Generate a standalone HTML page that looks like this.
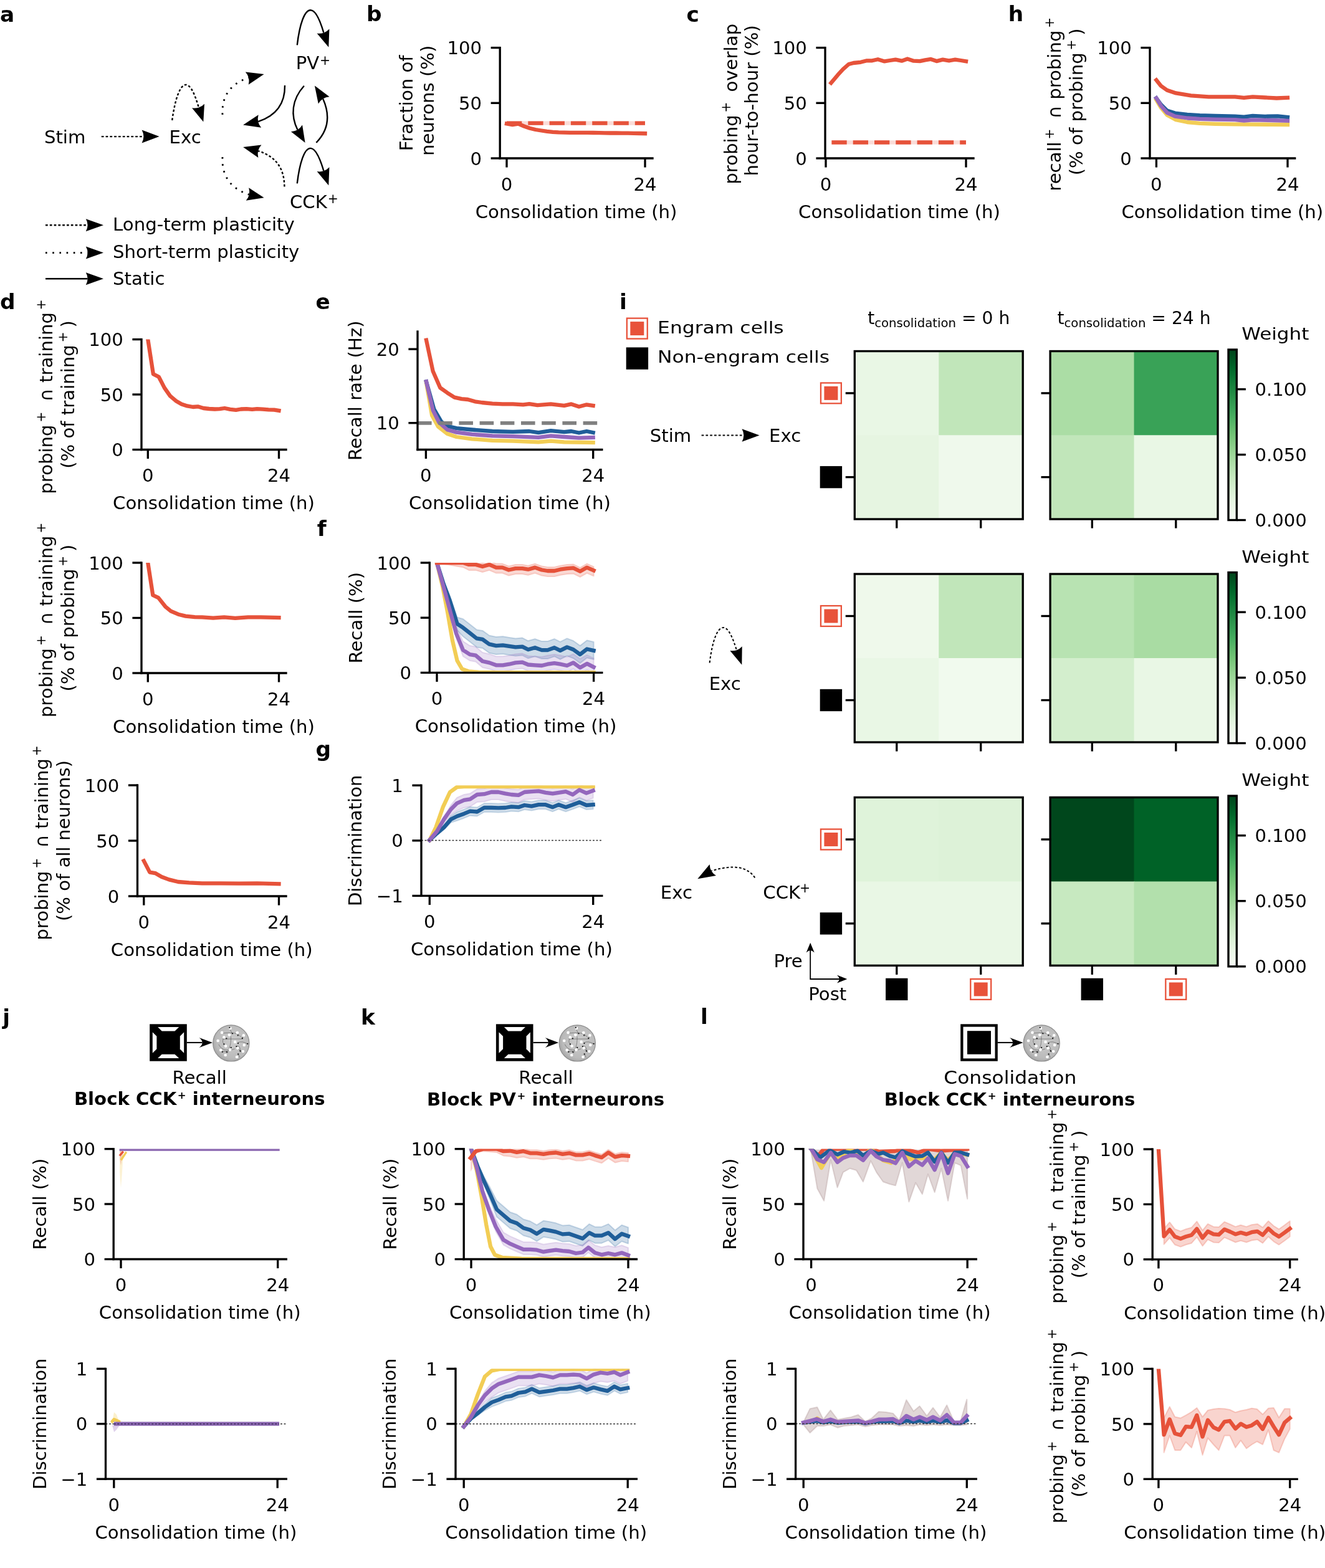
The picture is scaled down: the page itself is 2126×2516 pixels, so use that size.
<!DOCTYPE html>
<html><head><meta charset="utf-8"><title>Figure</title>
<style>
html,body{margin:0;padding:0;background:#fff;}
body{width:2126px;height:2516px;overflow:hidden;}
svg{display:block;}
svg text{font-family:'DejaVu Sans', 'Liberation Sans', sans-serif;font-size:29.17px;fill:#000;}
</style></head><body>
<svg width="2126" height="2516" viewBox="0 0 2126 2516">
<rect x="0" y="0" width="2126" height="2516" fill="#fff"/>
<clipPath id="cp_b"><rect x="802.2" y="76.6" width="244.8" height="177.4"/></clipPath>
<g clip-path="url(#cp_b)">
<rect x="813" y="194.4" width="222" height="6.4" fill="#E6523A" fill-opacity="0.2"/>
<line x1="813" y1="197.6" x2="1035" y2="197.6" stroke="#E6523A" stroke-width="6.3" stroke-linecap="butt" stroke-dasharray="24.3 10"/>
<polyline points="813,198.5 822.25,200.2 831.5,198.7 840.75,202.5 850,205.7 859.25,208 868.5,209.5 877.75,210.8 887,211.8 896.25,212.4 905.5,212.7 914.75,212.8 924,212.8 933.25,212.8 942.5,212.8 951.75,213 961,213.2 970.25,213.3 979.5,213.5 988.75,213.5 998,213.6 1007.25,213.7 1016.5,213.8 1025.75,214 1035,214.2" fill="none" stroke="#E6523A" stroke-width="6.3" stroke-linejoin="round" stroke-linecap="square"/>
</g>
<clipPath id="cp_c"><rect x="1324" y="76.6" width="238" height="177.4"/></clipPath>
<g clip-path="url(#cp_c)">
<polyline points="1333.5,133.1 1344.1,120.4 1352.6,111.2 1361.8,103 1369.6,101 1380.9,99.8 1390.9,97.3 1399.4,97.3 1408.6,95.2 1419.2,98.4 1427.7,97 1436.9,95.6 1446.8,97.7 1456,94.5 1465.9,97.7 1475.9,98.1 1484.4,96.3 1493.6,94.9 1502.8,98.1 1512.7,95.6 1522.7,97.3 1532.6,95.6 1541.8,97 1550,98.4" fill="none" stroke="#E6523A" stroke-width="6.3" stroke-linejoin="round" stroke-linecap="square"/>
<rect x="1334.4" y="225.3" width="215.6" height="6.4" fill="#E6523A" fill-opacity="0.2"/>
<line x1="1334.4" y1="228.5" x2="1550" y2="228.5" stroke="#E6523A" stroke-width="6.3" stroke-linecap="butt" stroke-dasharray="24.3 10"/>
</g>
<clipPath id="cp_h"><rect x="1845" y="76.6" width="232.7" height="177.4"/></clipPath>
<g clip-path="url(#cp_h)">
<polyline points="1855.4,160.4 1863,173 1872.6,184.4 1886.8,192.2 1905,196 1925,197.9 1950,198.8 1981.7,199.3 2010,199.6 2040,199.8 2066,200" fill="none" stroke="#F2CD55" stroke-width="6.3" stroke-linejoin="round" stroke-linecap="square"/>
<polyline points="1855.4,157.5 1863,168 1872.6,177.4 1885.4,181.6 1905,183.8 1925,185.2 1950,186 1981.7,186.6 1996,187.6 2010,185.9 2030,186.8 2050,186.4 2066,188" fill="none" stroke="#1F5E99" stroke-width="6.3" stroke-linejoin="round" stroke-linecap="square"/>
<polyline points="1855.4,157.5 1863,170 1872.6,180.9 1885.4,186.6 1905,189.5 1925,190.8 1950,191.6 1981.7,192.2 1996,193.5 2010,192.4 2040,193 2066,193.7" fill="none" stroke="#9467BD" stroke-width="6.3" stroke-linejoin="round" stroke-linecap="square"/>
<polyline points="1855.4,128.5 1862.7,137.7 1872.6,144.8 1886.8,149.4 1910.9,153.3 1939.2,155.4 1981.7,155.4 1995.9,156.8 2010,155.4 2030,156.5 2048.3,157.5 2066,156.8" fill="none" stroke="#E6523A" stroke-width="6.3" stroke-linejoin="round" stroke-linecap="square"/>
</g>
<clipPath id="cp_d1"><rect x="227" y="544.6" width="232" height="176.9"/></clipPath>
<g clip-path="url(#cp_d1)">
<polyline points="237.3,544.6 245.9,600.2 254.8,604.8 263.9,622.4 273,635.4 282.2,643.2 291.3,648.4 300.4,651.4 309.5,653 317.4,652.3 326.5,655 335.6,656 344.7,656.5 352.6,656.2 360.4,655 369.5,656.9 378.6,657.8 386.5,656.5 395.6,656.2 404.7,656.9 412.5,656.2 421.6,656.6 430.8,657.3 439.9,657.6 447.5,658.9" fill="none" stroke="#E6523A" stroke-width="6.3" stroke-linejoin="round" stroke-linecap="square"/>
</g>
<clipPath id="cp_d2"><rect x="227" y="903" width="232" height="177"/></clipPath>
<g clip-path="url(#cp_d2)">
<polyline points="237.3,903 245.3,955 254.1,959.1 265.3,973.3 274.2,980.7 286,985.7 297.8,988.6 312.5,990.1 324.3,990.4 342,991.6 359.7,990.4 377.4,991.9 398,990.4 418.6,990.4 447.5,991" fill="none" stroke="#E6523A" stroke-width="6.3" stroke-linejoin="round" stroke-linecap="square"/>
</g>
<clipPath id="cp_d3"><rect x="220.5" y="1260" width="238.5" height="178"/></clipPath>
<g clip-path="url(#cp_d3)">
<polyline points="230.8,1381.4 240.3,1399.6 249.1,1401.1 259.4,1407 271.2,1411.4 286,1415 303.6,1416.4 324.3,1417.3 353.8,1417.3 383.2,1417.6 412.7,1417.3 447.5,1418.2" fill="none" stroke="#E6523A" stroke-width="6.3" stroke-linejoin="round" stroke-linecap="square"/>
</g>
<clipPath id="cp_e"><rect x="670" y="532" width="295.8" height="189.5"/></clipPath>
<g clip-path="url(#cp_e)">
<polyline points="684,613.9 693.1,666.5 703,684.6 717.7,696.1 732.5,701 757.2,704.3 790.1,706.8 823,707.6 864,709.3 883.8,707.6 905.2,709.3 951.7,710.1" fill="none" stroke="#F2CD55" stroke-width="6.3" stroke-linejoin="round" stroke-linecap="square"/>
<polyline points="684,612.3 696.4,656.7 707.9,676.4 717.7,683.8 732.5,687.1 757.2,689.5 790.1,692 823,692.8 849.3,692 864,694.1 883.8,691.2 905.2,693.1 916.7,692 929,694.5 941.3,692 951.7,694.1" fill="none" stroke="#1F5E99" stroke-width="6.3" stroke-linejoin="round" stroke-linecap="square"/>
<polyline points="684,612.3 694.7,658.3 704.6,678 717.7,689.5 732.5,693.6 757.2,696.9 790.1,699.4 823,700.2 864,701.9 883.8,699.4 905.2,701 929,702.7 951.7,701.9" fill="none" stroke="#9467BD" stroke-width="6.3" stroke-linejoin="round" stroke-linecap="square"/>
<polyline points="684,545.7 694.7,595.8 706.2,622.1 717.7,630.3 729.2,637.7 740.8,640.2 750.6,641 762.1,644.3 773.6,646 790.1,647.6 806.5,648.4 823,648.4 839.4,649.3 849.3,648.1 862.4,650.1 883.8,648.4 905.2,650.9 916.7,648.4 929,652.5 941.3,649.3 951.7,650.9" fill="none" stroke="#E6523A" stroke-width="6.3" stroke-linejoin="round" stroke-linecap="square"/>
<line x1="670" y1="678.8" x2="965.8" y2="678.8" stroke="#808080" stroke-width="5.8" stroke-linecap="butt" stroke-dasharray="22.6 10.6"/>
</g>
<clipPath id="cp_f"><rect x="689.3" y="903" width="276.5" height="176.4"/></clipPath>
<g clip-path="url(#cp_f)">
<polygon points="701,903 711.8,933.6 721.2,955 733.6,990.5 743,993.2 753.9,1001.8 764.8,1010.4 774.2,1011.9 785.1,1019.7 796,1022.1 806.9,1021.3 817,1022.9 827.2,1024.4 838.1,1023.6 847.4,1028.3 858.4,1025.2 869.3,1029.1 878.6,1029.1 889.5,1025.2 898.9,1029.9 909.8,1024.4 919.9,1028.3 930.8,1036.1 941.8,1027.5 952.6,1029.9 952.6,1057.9 941.8,1055.5 930.8,1064.1 919.9,1056.3 909.8,1052.4 898.9,1057.9 889.5,1053.2 878.6,1057.1 869.3,1057.1 858.4,1053.2 847.4,1056.3 838.1,1051.6 827.2,1052.4 817,1050.9 806.9,1049.3 796,1050.1 785.1,1047.7 774.2,1039.9 764.8,1038.4 753.9,1029.8 743,1021.2 733.6,1011.5 721.2,969 711.8,940.6 701,903" fill="#1F5E99" fill-opacity="0.22" stroke="#1F5E99" stroke-opacity="0.22" stroke-width="2" stroke-linejoin="round"/>
<polygon points="701,903 711.8,938.3 722.7,975.3 732.1,1006.1 743,1029.1 753.9,1036.1 763.3,1037.7 774.2,1047 785.1,1049.4 796,1053.3 806.9,1053.3 817,1051.7 827.2,1049.4 838.1,1048.6 847.4,1052.5 858.4,1053.3 869.3,1054 878.6,1051.7 889.5,1050.1 898.9,1051.7 909.8,1054 919.9,1049.4 930.8,1057.2 941.8,1050.9 952.6,1056.4 952.6,1080.4 941.8,1074.9 930.8,1081.2 919.9,1073.4 909.8,1078 898.9,1075.7 889.5,1074.1 878.6,1075.7 869.3,1078 858.4,1077.3 847.4,1076.5 838.1,1072.6 827.2,1073.4 817,1075.7 806.9,1077.3 796,1077.3 785.1,1073.4 774.2,1071 763.3,1061.7 753.9,1060.1 743,1053.1 732.1,1024.1 722.7,987.3 711.8,944.3 701,903" fill="#9467BD" fill-opacity="0.2" stroke="#9467BD" stroke-opacity="0.2" stroke-width="2" stroke-linejoin="round"/>
<polygon points="701,903 711.5,901.8 722,900.6 732.4,899.4 743,898.2 752.4,899.9 763.3,899.9 774.2,903 785.1,899.9 796,904.6 806.1,904.6 816.3,908.5 827.2,906.1 838.1,906.1 847.4,907.7 858.4,904.6 869.3,908.5 878.6,910 889.5,910 898.9,907.7 909.8,906.1 919.9,905.4 930.8,910.8 941.8,904.6 952.6,909.3 952.6,924.3 941.8,919.6 930.8,925.8 919.9,920.4 909.8,921.1 898.9,922.7 889.5,925 878.6,925 869.3,923.5 858.4,919.6 847.4,922.7 838.1,921.1 827.2,921.1 816.3,923.5 806.1,919.6 796,919.6 785.1,914.9 774.2,918 763.3,914.9 752.4,914.9 743,910.2 732.4,908.4 722,906.6 711.5,904.8 701,903" fill="#E6523A" fill-opacity="0.22" stroke="#E6523A" stroke-opacity="0.22" stroke-width="2" stroke-linejoin="round"/>
<polyline points="701,903 710.3,941.8 718.1,982.3 725.9,1027.5 733.6,1060.2 741.4,1073.5 752.4,1077.5 767.9,1078.6 800,1079.2 952.6,1079.2" fill="none" stroke="#F2CD55" stroke-width="6.3" stroke-linejoin="round" stroke-linecap="square"/>
<polyline points="701,903 711.8,937.1 721.2,962 733.6,1001 743,1007.2 753.9,1015.8 764.8,1024.4 774.2,1025.9 785.1,1033.7 796,1036.1 806.9,1035.3 817,1036.9 827.2,1038.4 838.1,1037.6 847.4,1042.3 858.4,1039.2 869.3,1043.1 878.6,1043.1 889.5,1039.2 898.9,1043.9 909.8,1038.4 919.9,1042.3 930.8,1050.1 941.8,1041.5 952.6,1043.9" fill="none" stroke="#1F5E99" stroke-width="6.3" stroke-linejoin="round" stroke-linecap="square"/>
<polyline points="701,903 711.8,941.8 722.7,982.3 732.1,1016.6 743,1043.1 753.9,1050.1 763.3,1051.7 774.2,1061 785.1,1063.4 796,1067.3 806.9,1067.3 817,1065.7 827.2,1063.4 838.1,1062.6 847.4,1066.5 858.4,1067.3 869.3,1068 878.6,1065.7 889.5,1064.1 898.9,1065.7 909.8,1068 919.9,1063.4 930.8,1071.2 941.8,1064.9 952.6,1070.4" fill="none" stroke="#9467BD" stroke-width="6.3" stroke-linejoin="round" stroke-linecap="square"/>
<polyline points="701,903 711.5,903 722,903 732.4,903 743,903 752.4,905.9 763.3,905.9 774.2,909 785.1,905.9 796,910.6 806.1,910.6 816.3,914.5 827.2,912.1 838.1,912.1 847.4,913.7 858.4,910.6 869.3,914.5 878.6,916 889.5,916 898.9,913.7 909.8,912.1 919.9,911.4 930.8,916.8 941.8,910.6 952.6,915.3" fill="none" stroke="#E6523A" stroke-width="6.3" stroke-linejoin="round" stroke-linecap="square"/>
</g>
<clipPath id="cp_g"><rect x="676" y="1260.2" width="289.8" height="177.2"/></clipPath>
<g clip-path="url(#cp_g)">
<polygon points="689.3,1348.1 701,1335.55 712.3,1324.1 723.6,1309.35 733.3,1302.8 744.6,1298.7 754.3,1294.7 765.6,1295.5 776.9,1289 788.3,1289 799.6,1289.4 810.9,1289 820.6,1287.4 831.9,1288.2 841.6,1285 852.9,1286.6 864.2,1284.2 875.5,1284.2 886.8,1288.2 896.5,1284.2 907.8,1288.2 919.1,1284.2 929.6,1280.2 940.9,1285 951.7,1284.2 951.7,1298.2 940.9,1299 929.6,1294.2 919.1,1298.2 907.8,1302.2 896.5,1298.2 886.8,1302.2 875.5,1298.2 864.2,1298.2 852.9,1300.6 841.6,1299 831.9,1302.2 820.6,1301.4 810.9,1303 799.6,1303.4 788.3,1303 776.9,1303 765.6,1309.5 754.3,1308.7 744.6,1312.7 733.3,1316.8 723.6,1319.85 712.3,1331.1 701,1339.05 689.3,1348.1" fill="#1F5E99" fill-opacity="0.2" stroke="#1F5E99" stroke-opacity="0.2" stroke-width="2" stroke-linejoin="round"/>
<polygon points="689.3,1348.1 701,1331.75 712.3,1310.1 723.6,1291.75 733.3,1279.8 744.6,1274.9 754.3,1273.3 765.6,1266 776.9,1265.2 788.3,1262 799.6,1262 810.9,1264.4 820.6,1266 831.9,1266.9 841.6,1262 852.9,1261.2 864.2,1260.4 875.5,1262.8 886.8,1264.4 896.5,1262.8 907.8,1261.2 919.1,1266 929.6,1258.5 940.9,1263.6 951.7,1259.6 951.7,1280.6 940.9,1284.6 929.6,1279.5 919.1,1287 907.8,1282.2 896.5,1283.8 886.8,1285.4 875.5,1283.8 864.2,1281.4 852.9,1282.2 841.6,1283 831.9,1287.9 820.6,1287 810.9,1285.4 799.6,1283 788.3,1283 776.9,1286.2 765.6,1287 754.3,1294.3 744.6,1295.9 733.3,1300.8 723.6,1307.5 712.3,1320.6 701,1337 689.3,1348.1" fill="#9467BD" fill-opacity="0.2" stroke="#9467BD" stroke-opacity="0.2" stroke-width="2" stroke-linejoin="round"/>
<polyline points="689.3,1348.1 699.4,1327.6 710.7,1295.2 722,1271 733.3,1262.9 744.6,1262.1 951.7,1262.1" fill="none" stroke="#F2CD55" stroke-width="6.3" stroke-linejoin="round" stroke-linecap="square"/>
<polyline points="689.3,1348.1 701,1337.3 712.3,1327.6 723.6,1314.6 733.3,1309.8 744.6,1305.7 754.3,1301.7 765.6,1302.5 776.9,1296 788.3,1296 799.6,1296.4 810.9,1296 820.6,1294.4 831.9,1295.2 841.6,1292 852.9,1293.6 864.2,1291.2 875.5,1291.2 886.8,1295.2 896.5,1291.2 907.8,1295.2 919.1,1291.2 929.6,1287.2 940.9,1292 951.7,1291.2" fill="none" stroke="#1F5E99" stroke-width="6.3" stroke-linejoin="round" stroke-linecap="square"/>
<polyline points="689.3,1348.1 701,1334 712.3,1314.6 723.6,1298.5 733.3,1288.8 744.6,1283.9 754.3,1282.3 765.6,1275 776.9,1274.2 788.3,1271 799.6,1271 810.9,1273.4 820.6,1275 831.9,1275.9 841.6,1271 852.9,1270.2 864.2,1269.4 875.5,1271.8 886.8,1273.4 896.5,1271.8 907.8,1270.2 919.1,1275 929.6,1267.5 940.9,1272.6 951.7,1268.6" fill="none" stroke="#9467BD" stroke-width="6.3" stroke-linejoin="round" stroke-linecap="square"/>
<line x1="676" y1="1348.5" x2="965.8" y2="1348.5" stroke="#333" stroke-width="1.6" stroke-linecap="butt" stroke-dasharray="2.9 2.6"/>
</g>
<clipPath id="cp_j1"><rect x="182.2" y="1843.6" width="277.1" height="176.9"/></clipPath>
<g clip-path="url(#cp_j1)">
<polygon points="192,1846 195,1846 198,1848 196,1880 194,1906 192,1880" fill="#F2CD55" fill-opacity="0.25"/>
<polygon points="192,1846 196,1846 197,1852 194,1870 192,1860" fill="#E6523A" fill-opacity="0.2"/>
<polyline points="191.8,1854.5 197.9,1847.6" fill="none" stroke="#E6523A" stroke-width="3.3" stroke-linejoin="round" stroke-linecap="butt"/>
<polyline points="194.2,1861.5 202.8,1848.4" fill="none" stroke="#F2CD55" stroke-width="3.3" stroke-linejoin="round" stroke-linecap="butt"/>
<polyline points="191.6,1843.6 448.7,1843.6" fill="none" stroke="#8a66b0" stroke-width="6.3" stroke-linejoin="round" stroke-linecap="butt"/>
</g>
<clipPath id="cp_j2"><rect x="169.5" y="2196.3" width="289.8" height="176.9"/></clipPath>
<g clip-path="url(#cp_j2)">
<line x1="169.5" y1="2284.7" x2="459.3" y2="2284.7" stroke="#333" stroke-width="1.6" stroke-linecap="butt" stroke-dasharray="2.9 2.6"/>
<polygon points="180,2281 183,2266 187,2270 191,2281" fill="#F2CD55" fill-opacity="0.3"/>
<polygon points="180,2287 183,2298 187,2294 192,2287" fill="#9467BD" fill-opacity="0.3"/>
<polyline points="180,2281 183.1,2277.5 191,2281" fill="none" stroke="#F2CD55" stroke-width="5" stroke-linejoin="round" stroke-linecap="round"/>
<polyline points="182.8,2284.6 448,2284.6" fill="none" stroke="#8a66b0" stroke-width="6.2" stroke-linejoin="round" stroke-linecap="butt"/>
<line x1="182.8" y1="2284.7" x2="448" y2="2284.7" stroke="#3a2a55" stroke-width="1.6" stroke-linecap="butt" stroke-dasharray="2.9 2.6"/>
</g>
<clipPath id="cp_k1"><rect x="744.2" y="1843.6" width="277.2" height="176.9"/></clipPath>
<g clip-path="url(#cp_k1)">
<polygon points="756,1843.6 766.4,1868.2 775.6,1886.2 786.3,1905.6 797,1926.6 807.8,1935.8 818.5,1945 829.2,1948.8 839.9,1956.5 850.6,1959.5 861.3,1965.7 872,1958.8 881.2,1960.3 892,1962.6 902.7,1966.4 913.4,1965.7 924.1,1969.5 934.8,1973.3 945.5,1964.1 954.7,1968.7 965.4,1968.7 976.1,1964.1 986.9,1974.1 997.6,1965.7 1008,1969.5 1008,1995.5 997.6,1991.7 986.9,2000.1 976.1,1990.1 965.4,1994.7 954.7,1994.7 945.5,1990.1 934.8,1999.3 924.1,1995.5 913.4,1991.7 902.7,1992.4 892,1988.6 881.2,1986.3 872,1984.8 861.3,1991.7 850.6,1985.5 839.9,1982.5 829.2,1974.8 818.5,1971 807.8,1961.8 797,1952.6 786.3,1925.1 775.6,1899.2 766.4,1874.7 756,1843.6" fill="#1F5E99" fill-opacity="0.22" stroke="#1F5E99" stroke-opacity="0.22" stroke-width="2" stroke-linejoin="round"/>
<polygon points="756,1843.6 764.9,1870.3 774.1,1905.5 784.8,1933.1 795.5,1956.2 807.8,1977.6 818.5,1983.7 829.2,1988.3 839.9,1992.9 850.6,1992.9 861.3,1993.7 872,1996.7 881.2,1995.2 892,1993.7 902.7,1995.2 913.4,1996 924.1,1999 934.8,1997.5 944,1989.8 954.7,1998.3 965.4,2001.3 976.1,1999 986.9,2001.3 997.6,1998.3 1008,2002.1 1008,2022.1 997.6,2018.3 986.9,2021.3 976.1,2019 965.4,2021.3 954.7,2018.3 944,2009.8 934.8,2017.5 924.1,2019 913.4,2016 902.7,2015.2 892,2013.7 881.2,2015.2 872,2016.7 861.3,2013.7 850.6,2012.9 839.9,2012.9 829.2,2008.3 818.5,2003.7 807.8,1997.6 795.5,1976.2 784.8,1948.1 774.1,1915.5 764.9,1875.3 756,1843.6" fill="#9467BD" fill-opacity="0.2" stroke="#9467BD" stroke-opacity="0.2" stroke-width="2" stroke-linejoin="round"/>
<polygon points="755,1858 763.4,1846.2 775.6,1841.6 797,1840.6 807.8,1843.2 818.5,1841.5 829.2,1843.8 839.9,1842.2 850.6,1845.3 861.3,1845.3 872,1846.8 881.2,1845.3 892,1844.5 902.7,1846.8 913.4,1845.3 924.1,1848.4 934.8,1848.4 945.5,1846.1 954.7,1849.1 965.4,1852.2 976.1,1844.5 986.9,1851.4 997.6,1849.1 1008,1849.9 1008,1863.9 997.6,1863.1 986.9,1865.4 976.1,1858.5 965.4,1866.2 954.7,1863.1 945.5,1860.1 934.8,1862.4 924.1,1862.4 913.4,1859.3 902.7,1860.8 892,1858.5 881.2,1859.3 872,1860.8 861.3,1859.3 850.6,1859.3 839.9,1856.2 829.2,1857.8 818.5,1855.5 807.8,1854.4 797,1849 775.6,1847.2 763.4,1849 755,1858" fill="#E6523A" fill-opacity="0.22" stroke="#E6523A" stroke-opacity="0.22" stroke-width="2" stroke-linejoin="round"/>
<polygon points="755,1845 758,1845 758,1875 755,1880" fill="#E6523A" fill-opacity="0.25"/>
<polyline points="756,1843.6 764.9,1877.9 772.6,1919.2 780.2,1965.1 787.1,2000.3 794,2013.5 806.2,2018 836.8,2019.6 1008,2020.2" fill="none" stroke="#F2CD55" stroke-width="6.3" stroke-linejoin="round" stroke-linecap="square"/>
<polyline points="756,1843.6 766.4,1871.7 775.6,1893.2 786.3,1916.1 797,1940.6 807.8,1949.8 818.5,1959 829.2,1962.8 839.9,1970.5 850.6,1973.5 861.3,1979.7 872,1972.8 881.2,1974.3 892,1976.6 902.7,1980.4 913.4,1979.7 924.1,1983.5 934.8,1987.3 945.5,1978.1 954.7,1982.7 965.4,1982.7 976.1,1978.1 986.9,1988.1 997.6,1979.7 1008,1983.5" fill="none" stroke="#1F5E99" stroke-width="6.3" stroke-linejoin="round" stroke-linecap="square"/>
<polyline points="756,1843.6 764.9,1873.3 774.1,1911.5 784.8,1942.1 795.5,1968.2 807.8,1989.6 818.5,1995.7 829.2,2000.3 839.9,2004.9 850.6,2004.9 861.3,2005.7 872,2008.7 881.2,2007.2 892,2005.7 902.7,2007.2 913.4,2008 924.1,2011 934.8,2009.5 944,2001.8 954.7,2010.3 965.4,2013.3 976.1,2011 986.9,2013.3 997.6,2010.3 1008,2014.1" fill="none" stroke="#9467BD" stroke-width="6.3" stroke-linejoin="round" stroke-linecap="square"/>
<polyline points="755,1858 763.4,1847.2 775.6,1843.6 797,1843.6 807.8,1847.2 818.5,1846.5 829.2,1848.8 839.9,1847.2 850.6,1850.3 861.3,1850.3 872,1851.8 881.2,1850.3 892,1849.5 902.7,1851.8 913.4,1850.3 924.1,1853.4 934.8,1853.4 945.5,1851.1 954.7,1854.1 965.4,1857.2 976.1,1849.5 986.9,1856.4 997.6,1854.1 1008,1854.9" fill="none" stroke="#E6523A" stroke-width="6.3" stroke-linejoin="round" stroke-linecap="square"/>
</g>
<clipPath id="cp_k2"><rect x="731" y="2196.3" width="290.4" height="176.9"/></clipPath>
<g clip-path="url(#cp_k2)">
<polygon points="744.2,2289 755.6,2274.55 766.7,2264 777.9,2252.75 789,2243.1 800.1,2239.1 811.2,2234.3 820.7,2232.8 831.8,2228 842.9,2226.4 853.3,2221.7 865.2,2227.2 876.3,2225.6 887.4,2224 898.5,2221.7 909.6,2221.7 919.9,2220.1 930.2,2217.7 941.3,2223.2 952.5,2219.3 963.6,2222.4 974.7,2224.8 985.8,2217.7 995.3,2222.4 1007.2,2220.1 1007.2,2234.1 995.3,2236.4 985.8,2231.7 974.7,2238.8 963.6,2236.4 952.5,2233.3 941.3,2237.2 930.2,2231.7 919.9,2234.1 909.6,2235.7 898.5,2235.7 887.4,2238 876.3,2239.6 865.2,2241.2 853.3,2235.7 842.9,2240.4 831.8,2242 820.7,2246.8 811.2,2248.3 800.1,2253.1 789,2257.1 777.9,2263.25 766.7,2271 755.6,2278.05 744.2,2289" fill="#1F5E99" fill-opacity="0.2" stroke="#1F5E99" stroke-opacity="0.2" stroke-width="2" stroke-linejoin="round"/>
<polygon points="744.2,2289 755.6,2271.65 766.7,2250.3 777.9,2232.25 789,2218.9 800.1,2211.7 809.6,2208.5 820.7,2204.6 831.8,2200.6 842.9,2200.6 853.3,2200.6 865.2,2197.4 876.3,2199 887.4,2201.4 898.5,2197.4 909.6,2197.4 919.9,2196.6 930.2,2197.4 941.3,2203 952.5,2196.6 963.6,2193.5 974.7,2195 985.8,2192.7 995.3,2197.4 1007.2,2192.7 1007.2,2215.7 995.3,2220.4 985.8,2215.7 974.7,2218 963.6,2216.5 952.5,2219.6 941.3,2226 930.2,2220.4 919.9,2219.6 909.6,2220.4 898.5,2220.4 887.4,2224.4 876.3,2222 865.2,2220.4 853.3,2223.6 842.9,2223.6 831.8,2223.6 820.7,2227.6 809.6,2231.5 800.1,2234.7 789,2241.9 777.9,2249.5 766.7,2261.8 755.6,2277.4 744.2,2289" fill="#9467BD" fill-opacity="0.2" stroke="#9467BD" stroke-opacity="0.2" stroke-width="2" stroke-linejoin="round"/>
<polyline points="744.2,2289 755.6,2269.1 766.7,2237.4 777.9,2208.8 789,2199.3 801.7,2196.9 1007.2,2196.9" fill="none" stroke="#F2CD55" stroke-width="6.3" stroke-linejoin="round" stroke-linecap="square"/>
<polyline points="744.2,2289 755.6,2276.3 766.7,2267.5 777.9,2258 789,2250.1 800.1,2246.1 811.2,2241.3 820.7,2239.8 831.8,2235 842.9,2233.4 853.3,2228.7 865.2,2234.2 876.3,2232.6 887.4,2231 898.5,2228.7 909.6,2228.7 919.9,2227.1 930.2,2224.7 941.3,2230.2 952.5,2226.3 963.6,2229.4 974.7,2231.8 985.8,2224.7 995.3,2229.4 1007.2,2227.1" fill="none" stroke="#1F5E99" stroke-width="6.3" stroke-linejoin="round" stroke-linecap="square"/>
<polyline points="744.2,2289 755.6,2273.9 766.7,2254.8 777.9,2239 789,2227.9 800.1,2220.7 809.6,2217.5 820.7,2213.6 831.8,2209.6 842.9,2209.6 853.3,2209.6 865.2,2206.4 876.3,2208 887.4,2210.4 898.5,2206.4 909.6,2206.4 919.9,2205.6 930.2,2206.4 941.3,2212 952.5,2205.6 963.6,2202.5 974.7,2204 985.8,2201.7 995.3,2206.4 1007.2,2201.7" fill="none" stroke="#9467BD" stroke-width="6.3" stroke-linejoin="round" stroke-linecap="square"/>
<line x1="731" y1="2284.7" x2="1021.4" y2="2284.7" stroke="#333" stroke-width="1.6" stroke-linecap="butt" stroke-dasharray="2.9 2.6"/>
</g>
<clipPath id="cp_l1"><rect x="1289" y="1843.6" width="277.3" height="176.9"/></clipPath>
<g clip-path="url(#cp_l1)">
<polygon points="1300.7,1845.4 1311.4,1845.4 1322.1,1845.4 1332.9,1845.4 1343.6,1845.4 1352.8,1845.4 1363.5,1845.4 1374.2,1845.4 1384.9,1845.4 1397.1,1845.4 1406.3,1845.4 1417,1845.4 1427.8,1845.4 1436.9,1845.4 1447.7,1845.4 1458.4,1845.4 1469.1,1845.4 1479.8,1845.4 1489,1845.4 1499.7,1845.4 1510.4,1845.4 1521.1,1845.4 1531.8,1845.4 1541.8,1845.4 1552.2,1845.4 1552.2,1923.8 1541.8,1870.2 1531.8,1865.6 1521.1,1926.8 1510.4,1874.8 1499.7,1913.1 1489,1884 1479.8,1916.1 1469.1,1897.8 1458.4,1928.4 1447.7,1865.6 1436.9,1902.3 1427.8,1900 1417,1896.2 1406.3,1880.9 1397.1,1862.6 1384.9,1896.2 1374.2,1877.9 1363.5,1874.8 1352.8,1880.9 1343.6,1905.4 1332.9,1861 1322.1,1926.8 1311.4,1907 1300.7,1843.6" fill="#b8a0a0" fill-opacity="0.42" stroke="#b8a0a0" stroke-opacity="0.42" stroke-width="2" stroke-linejoin="round"/>
<polyline points="1301.6,1843.6 1313,1854.1 1322,1843.6 1400,1843.6 1410,1848 1436,1847 1450,1843.6 1473.7,1849.5 1489,1843.6 1510,1846.5 1552.2,1843.6" fill="none" stroke="#E6523A" stroke-width="6.3" stroke-linejoin="round" stroke-linecap="square"/>
<polyline points="1301.6,1843.6 1311.4,1862 1318,1874 1325,1862 1332.9,1850 1343.6,1858 1354,1852 1363.5,1843.6 1374,1852 1385,1858 1397,1843.6 1417,1862 1430,1866 1447.7,1850 1460,1860 1480,1858 1500,1860 1510,1850 1521,1862 1532,1850 1552.2,1853" fill="none" stroke="#F2CD55" stroke-width="6.3" stroke-linejoin="round" stroke-linecap="square"/>
<polyline points="1301.6,1843.6 1316,1857.2 1331.3,1845.7 1343.6,1852.6 1354.3,1848 1365,1849.5 1375.7,1846.5 1384.9,1854.1 1397.1,1846.5 1409.4,1851.8 1417,1849.5 1427.8,1854.9 1436.9,1857.2 1447.7,1847.2 1458.4,1851.8 1469.1,1855.7 1479.8,1854.9 1489,1849.5 1499.7,1864.1 1510.4,1849.5 1521.1,1865.6 1531.8,1849.5 1541.8,1849.5 1552.2,1852.6" fill="none" stroke="#1F5E99" stroke-width="6.3" stroke-linejoin="round" stroke-linecap="square"/>
<polyline points="1301.6,1843.6 1311.4,1860.3 1322.1,1864.8 1332.9,1849.5 1343.6,1864.8 1352.8,1858 1363.5,1854.1 1374.2,1854.1 1384.9,1861.8 1397.1,1846.5 1406.3,1855.7 1417,1861 1427.8,1862.6 1436.9,1866.4 1447.7,1849.5 1458.4,1871.7 1469.1,1862.6 1479.8,1869.4 1489,1858.7 1499.7,1877.1 1510.4,1850.3 1521.1,1882.5 1531.8,1851.8 1541.8,1854.9 1552.2,1871.7" fill="none" stroke="#9467BD" stroke-width="6.3" stroke-linejoin="round" stroke-linecap="square"/>
</g>
<clipPath id="cp_l2"><rect x="1276.6" y="2196.3" width="289.7" height="176.9"/></clipPath>
<g clip-path="url(#cp_l2)">
<polygon points="1289.2,2282 1299.7,2260.4 1311.2,2258 1321.1,2277.7 1332.6,2262.9 1344.1,2278 1354,2276 1365.5,2274 1377,2270.3 1388.5,2281 1398.4,2276 1409.9,2265.3 1421.4,2266 1432.9,2268 1442.8,2279 1454.3,2246.4 1465.8,2264.5 1475.6,2256.3 1487.1,2272 1497,2258.8 1508.5,2274 1519.2,2254.7 1530.7,2281 1541.4,2280 1551.3,2245.6 1551.3,2286 1541.4,2287 1530.7,2287 1519.2,2286 1508.5,2287 1497,2286 1487.1,2287 1475.6,2286 1465.8,2288 1454.3,2287 1442.8,2288 1432.9,2286 1421.4,2286 1409.9,2286 1398.4,2287 1388.5,2289 1377,2286 1365.5,2287 1354,2288 1344.1,2290.8 1332.6,2286 1321.1,2288 1311.2,2288 1299.7,2299 1289.2,2286" fill="#b8a0a0" fill-opacity="0.42" stroke="#b8a0a0" stroke-opacity="0.42" stroke-width="2" stroke-linejoin="round"/>
<polyline points="1305,2280 1311.2,2275 1318,2280" fill="none" stroke="#F2CD55" stroke-width="5" stroke-linejoin="round" stroke-linecap="round"/>
<polyline points="1289.2,2283 1299.7,2281.5 1311.2,2280 1321.1,2282.5 1332.6,2280.5 1344.1,2283 1354,2282 1365.5,2281.5 1377,2281 1388.5,2284 1398.4,2282 1409.9,2280.5 1421.4,2280.5 1432.9,2280 1442.8,2283.5 1454.3,2279.5 1465.8,2281.5 1475.6,2279.5 1487.1,2282 1497,2279.5 1508.5,2282 1519.2,2279 1530.7,2283.5 1541.4,2283.5 1551.3,2279" fill="none" stroke="#1F5E99" stroke-width="6.3" stroke-linejoin="round" stroke-linecap="square"/>
<polyline points="1289.2,2282.6 1299.7,2280.1 1310.4,2276.9 1321.1,2281 1332.6,2277.7 1344.1,2281.8 1354,2281 1365.5,2280.1 1377,2279.3 1388.5,2283.4 1398.4,2281 1409.9,2277.7 1421.4,2277.7 1432.9,2276.9 1442.8,2282.6 1454.3,2271.9 1465.8,2277.7 1475.6,2273.6 1487.1,2278.5 1497,2273.6 1508.5,2279.3 1519.2,2270.3 1530.7,2282.6 1541.4,2282.6 1551.3,2271.9" fill="none" stroke="#9467BD" stroke-width="6.3" stroke-linejoin="round" stroke-linecap="square"/>
<line x1="1276.6" y1="2284.5" x2="1566.3" y2="2284.5" stroke="#333" stroke-width="1.6" stroke-linecap="butt" stroke-dasharray="2.9 2.6"/>
</g>
<clipPath id="cp_l3"><rect x="1849.2" y="1844" width="232" height="176.8"/></clipPath>
<g clip-path="url(#cp_l3)">
<polygon points="1867.6,1971.7 1876.7,1961.2 1885.2,1972.3 1894.3,1975.6 1902.8,1972.3 1911.9,1969.7 1920.4,1959.9 1929.5,1974.3 1938,1963.9 1947.1,1968.4 1955.6,1969.1 1964.7,1960.6 1973.9,1964.5 1982.3,1968.4 1990.8,1965.8 1999.9,1968.4 2008.4,1965.2 2017.5,1963.9 2026,1969.7 2035.1,1959.3 2043.6,1967.1 2052.1,1972.3 2061.2,1965.8 2069.7,1959.3 2069.7,1984.3 2061.2,1990.8 2052.1,1997.3 2043.6,1992.1 2035.1,1984.3 2026,1994.7 2017.5,1988.9 2008.4,1990.2 1999.9,1993.4 1990.8,1990.8 1982.3,1993.4 1973.9,1989.5 1964.7,1985.6 1955.6,1994.1 1947.1,1993.4 1938,1988.9 1929.5,1999.3 1920.4,1984.9 1911.9,1994.7 1902.8,1997.3 1894.3,2000.6 1885.2,1997.3 1876.7,1986.2 1867.6,1996.7" fill="#E6523A" fill-opacity="0.25" stroke="#E6523A" stroke-opacity="0.25" stroke-width="2" stroke-linejoin="round"/>
<polyline points="1858.9,1844 1867.6,1983.7 1876.7,1973.2 1885.2,1984.3 1894.3,1987.6 1902.8,1984.3 1911.9,1981.7 1920.4,1971.9 1929.5,1986.3 1938,1975.9 1947.1,1980.4 1955.6,1981.1 1964.7,1972.6 1973.9,1976.5 1982.3,1980.4 1990.8,1977.8 1999.9,1980.4 2008.4,1977.2 2017.5,1975.9 2026,1981.7 2035.1,1971.3 2043.6,1979.1 2052.1,1984.3 2061.2,1977.8 2069.7,1971.3" fill="none" stroke="#E6523A" stroke-width="6.3" stroke-linejoin="round" stroke-linecap="square"/>
</g>
<clipPath id="cp_l4"><rect x="1849.2" y="2196.4" width="232" height="176.9"/></clipPath>
<g clip-path="url(#cp_l4)">
<polygon points="1867.6,2275 1876.7,2257.2 1885.2,2273.5 1894.3,2275.4 1902.8,2270.9 1911.9,2265.6 1920.4,2259.1 1929.5,2273.5 1938,2263 1947.1,2261 1955.6,2260 1964.7,2260.4 1973.2,2262 1982.3,2266.3 1990.8,2263.7 1999.9,2262 2008.4,2259.8 2016.9,2261 2026,2269.6 2035.1,2259.8 2043.6,2259.1 2052.1,2274.8 2061.2,2260.4 2069.7,2260.4 2069.7,2293 2061.2,2308.7 2052.1,2330.8 2043.6,2327 2035.1,2294.3 2026,2317.8 2016.9,2313 2008.4,2318 1999.9,2324.3 1990.8,2311.3 1982.3,2323 1973.2,2303.5 1964.7,2303.5 1955.6,2327 1947.1,2318 1938,2307.4 1929.5,2334.7 1920.4,2296.9 1911.9,2323 1902.8,2313.9 1894.3,2327 1885.2,2327 1876.7,2303.5 1867.6,2330.8" fill="#E6523A" fill-opacity="0.25" stroke="#E6523A" stroke-opacity="0.25" stroke-width="2" stroke-linejoin="round"/>
<polyline points="1858.9,2196.4 1867.6,2302.2 1876.7,2277.4 1885.2,2300.2 1894.3,2302.8 1902.8,2289.1 1911.9,2289.8 1920.4,2270.9 1929.5,2305.4 1938,2278.7 1947.1,2290.4 1955.6,2294.3 1964.7,2281.3 1973.2,2280 1982.3,2292.4 1990.8,2284.6 1999.9,2289.8 2008.4,2287.2 2016.9,2281.3 2026,2293 2035.1,2274.8 2043.6,2289.1 2052.1,2302.2 2061.2,2282.6 2069.7,2275.4" fill="none" stroke="#E6523A" stroke-width="6.3" stroke-linejoin="round" stroke-linecap="square"/>
</g>
<line x1="802.2" y1="76.6" x2="802.2" y2="254" stroke="#000" stroke-width="3.33" stroke-linecap="square"/>
<line x1="802.2" y1="254" x2="1047" y2="254" stroke="#000" stroke-width="3.33" stroke-linecap="square"/>
<line x1="787.62" y1="76.6" x2="802.2" y2="76.6" stroke="#000" stroke-width="3.33" stroke-linecap="butt"/>
<text x="773.04" y="87.2" text-anchor="end">100</text>
<line x1="787.62" y1="165.3" x2="802.2" y2="165.3" stroke="#000" stroke-width="3.33" stroke-linecap="butt"/>
<text x="773.04" y="175.9" text-anchor="end">50</text>
<line x1="787.62" y1="254" x2="802.2" y2="254" stroke="#000" stroke-width="3.33" stroke-linecap="butt"/>
<text x="773.04" y="264.6" text-anchor="end">0</text>
<line x1="813" y1="254" x2="813" y2="268.58" stroke="#000" stroke-width="3.33" stroke-linecap="butt"/>
<text x="813" y="305.6" text-anchor="middle">0</text>
<line x1="1035" y1="254" x2="1035" y2="268.58" stroke="#000" stroke-width="3.33" stroke-linecap="butt"/>
<text x="1035" y="305.6" text-anchor="middle">24</text>
<text x="924.6" y="349.7" text-anchor="middle">Consolidation time (h)</text>
<text x="661.79" y="165.3" text-anchor="middle" transform="rotate(-90 661.79 165.3)">Fraction of</text>
<text x="695.79" y="161.3" text-anchor="middle" transform="rotate(-90 695.79 161.3)">neurons (%)</text>
<line x1="1324" y1="76.6" x2="1324" y2="254" stroke="#000" stroke-width="3.33" stroke-linecap="square"/>
<line x1="1324" y1="254" x2="1562" y2="254" stroke="#000" stroke-width="3.33" stroke-linecap="square"/>
<line x1="1309.42" y1="76.6" x2="1324" y2="76.6" stroke="#000" stroke-width="3.33" stroke-linecap="butt"/>
<text x="1294.84" y="87.2" text-anchor="end">100</text>
<line x1="1309.42" y1="165.3" x2="1324" y2="165.3" stroke="#000" stroke-width="3.33" stroke-linecap="butt"/>
<text x="1294.84" y="175.9" text-anchor="end">50</text>
<line x1="1309.42" y1="254" x2="1324" y2="254" stroke="#000" stroke-width="3.33" stroke-linecap="butt"/>
<text x="1294.84" y="264.6" text-anchor="end">0</text>
<line x1="1325" y1="254" x2="1325" y2="268.58" stroke="#000" stroke-width="3.33" stroke-linecap="butt"/>
<text x="1325" y="305.6" text-anchor="middle">0</text>
<line x1="1550" y1="254" x2="1550" y2="268.58" stroke="#000" stroke-width="3.33" stroke-linecap="butt"/>
<text x="1550" y="305.6" text-anchor="middle">24</text>
<text x="1443" y="349.7" text-anchor="middle">Consolidation time (h)</text>
<text x="1183.09" y="166.8" text-anchor="middle" transform="rotate(-90 1183.09 166.8)">probing<tspan dx="3.6" dy="-11" style="font-size:20.4px">+</tspan><tspan dx="4" dy="11"> </tspan> overlap</text>
<text x="1215.59" y="161.3" text-anchor="middle" transform="rotate(-90 1215.59 161.3)">hour-to-hour (%)</text>
<line x1="1845" y1="76.6" x2="1845" y2="254" stroke="#000" stroke-width="3.33" stroke-linecap="square"/>
<line x1="1845" y1="254" x2="2077.7" y2="254" stroke="#000" stroke-width="3.33" stroke-linecap="square"/>
<line x1="1830.42" y1="76.6" x2="1845" y2="76.6" stroke="#000" stroke-width="3.33" stroke-linecap="butt"/>
<text x="1815.84" y="87.2" text-anchor="end">100</text>
<line x1="1830.42" y1="165.3" x2="1845" y2="165.3" stroke="#000" stroke-width="3.33" stroke-linecap="butt"/>
<text x="1815.84" y="175.9" text-anchor="end">50</text>
<line x1="1830.42" y1="254" x2="1845" y2="254" stroke="#000" stroke-width="3.33" stroke-linecap="butt"/>
<text x="1815.84" y="264.6" text-anchor="end">0</text>
<line x1="1855.4" y1="254" x2="1855.4" y2="268.58" stroke="#000" stroke-width="3.33" stroke-linecap="butt"/>
<text x="1855.4" y="305.6" text-anchor="middle">0</text>
<line x1="2066" y1="254" x2="2066" y2="268.58" stroke="#000" stroke-width="3.33" stroke-linecap="butt"/>
<text x="2066" y="305.6" text-anchor="middle">24</text>
<text x="1961.35" y="349.7" text-anchor="middle">Consolidation time (h)</text>
<text x="1701.59" y="163.8" text-anchor="middle" transform="rotate(-90 1701.59 163.8)">recall<tspan dx="3.6" dy="-11" style="font-size:20.4px">+</tspan><tspan dx="4" dy="11"> </tspan> ∩ probing<tspan dx="3.6" dy="-11" style="font-size:20.4px">+</tspan><tspan dx="4" dy="11"> </tspan></text>
<text x="1736.59" y="163.3" text-anchor="middle" transform="rotate(-90 1736.59 163.3)">(% of probing<tspan dx="3.6" dy="-11" style="font-size:20.4px">+</tspan><tspan dx="4" dy="11"> </tspan>)</text>
<line x1="227" y1="544.6" x2="227" y2="721.5" stroke="#000" stroke-width="3.33" stroke-linecap="square"/>
<line x1="227" y1="721.5" x2="459" y2="721.5" stroke="#000" stroke-width="3.33" stroke-linecap="square"/>
<line x1="212.42" y1="544.6" x2="227" y2="544.6" stroke="#000" stroke-width="3.33" stroke-linecap="butt"/>
<text x="197.84" y="555.2" text-anchor="end">100</text>
<line x1="212.42" y1="633" x2="227" y2="633" stroke="#000" stroke-width="3.33" stroke-linecap="butt"/>
<text x="197.84" y="643.6" text-anchor="end">50</text>
<line x1="212.42" y1="721.5" x2="227" y2="721.5" stroke="#000" stroke-width="3.33" stroke-linecap="butt"/>
<text x="197.84" y="732.1" text-anchor="end">0</text>
<line x1="237.3" y1="721.5" x2="237.3" y2="736.08" stroke="#000" stroke-width="3.33" stroke-linecap="butt"/>
<text x="237.3" y="773.1" text-anchor="middle">0</text>
<line x1="447.5" y1="721.5" x2="447.5" y2="736.08" stroke="#000" stroke-width="3.33" stroke-linecap="butt"/>
<text x="447.5" y="773.1" text-anchor="middle">24</text>
<text x="343" y="817.2" text-anchor="middle">Consolidation time (h)</text>
<text x="83.59" y="633.05" text-anchor="middle" transform="rotate(-90 83.59 633.05)">probing<tspan dx="3.6" dy="-11" style="font-size:20.4px">+</tspan><tspan dx="4" dy="11"> </tspan> ∩ training<tspan dx="3.6" dy="-11" style="font-size:20.4px">+</tspan><tspan dx="4" dy="11"> </tspan></text>
<text x="118.59" y="633.05" text-anchor="middle" transform="rotate(-90 118.59 633.05)">(% of training<tspan dx="3.6" dy="-11" style="font-size:20.4px">+</tspan><tspan dx="4" dy="11"> </tspan>)</text>
<line x1="227" y1="903" x2="227" y2="1080" stroke="#000" stroke-width="3.33" stroke-linecap="square"/>
<line x1="227" y1="1080" x2="459" y2="1080" stroke="#000" stroke-width="3.33" stroke-linecap="square"/>
<line x1="212.42" y1="903" x2="227" y2="903" stroke="#000" stroke-width="3.33" stroke-linecap="butt"/>
<text x="197.84" y="913.6" text-anchor="end">100</text>
<line x1="212.42" y1="991.5" x2="227" y2="991.5" stroke="#000" stroke-width="3.33" stroke-linecap="butt"/>
<text x="197.84" y="1002.1" text-anchor="end">50</text>
<line x1="212.42" y1="1080" x2="227" y2="1080" stroke="#000" stroke-width="3.33" stroke-linecap="butt"/>
<text x="197.84" y="1090.6" text-anchor="end">0</text>
<line x1="237.3" y1="1080" x2="237.3" y2="1094.58" stroke="#000" stroke-width="3.33" stroke-linecap="butt"/>
<text x="237.3" y="1131.6" text-anchor="middle">0</text>
<line x1="447.5" y1="1080" x2="447.5" y2="1094.58" stroke="#000" stroke-width="3.33" stroke-linecap="butt"/>
<text x="447.5" y="1131.6" text-anchor="middle">24</text>
<text x="343" y="1175.7" text-anchor="middle">Consolidation time (h)</text>
<text x="83.59" y="991.5" text-anchor="middle" transform="rotate(-90 83.59 991.5)">probing<tspan dx="3.6" dy="-11" style="font-size:20.4px">+</tspan><tspan dx="4" dy="11"> </tspan> ∩ training<tspan dx="3.6" dy="-11" style="font-size:20.4px">+</tspan><tspan dx="4" dy="11"> </tspan></text>
<text x="118.59" y="991.5" text-anchor="middle" transform="rotate(-90 118.59 991.5)">(% of probing<tspan dx="3.6" dy="-11" style="font-size:20.4px">+</tspan><tspan dx="4" dy="11"> </tspan>)</text>
<line x1="220.5" y1="1260" x2="220.5" y2="1438" stroke="#000" stroke-width="3.33" stroke-linecap="square"/>
<line x1="220.5" y1="1438" x2="459" y2="1438" stroke="#000" stroke-width="3.33" stroke-linecap="square"/>
<line x1="205.92" y1="1260" x2="220.5" y2="1260" stroke="#000" stroke-width="3.33" stroke-linecap="butt"/>
<text x="191.34" y="1270.6" text-anchor="end">100</text>
<line x1="205.92" y1="1349" x2="220.5" y2="1349" stroke="#000" stroke-width="3.33" stroke-linecap="butt"/>
<text x="191.34" y="1359.6" text-anchor="end">50</text>
<line x1="205.92" y1="1438" x2="220.5" y2="1438" stroke="#000" stroke-width="3.33" stroke-linecap="butt"/>
<text x="191.34" y="1448.6" text-anchor="end">0</text>
<line x1="230.8" y1="1438" x2="230.8" y2="1452.58" stroke="#000" stroke-width="3.33" stroke-linecap="butt"/>
<text x="230.8" y="1489.6" text-anchor="middle">0</text>
<line x1="447.5" y1="1438" x2="447.5" y2="1452.58" stroke="#000" stroke-width="3.33" stroke-linecap="butt"/>
<text x="447.5" y="1489.6" text-anchor="middle">24</text>
<text x="339.75" y="1533.7" text-anchor="middle">Consolidation time (h)</text>
<text x="77.09" y="1349" text-anchor="middle" transform="rotate(-90 77.09 1349)">probing<tspan dx="3.6" dy="-11" style="font-size:20.4px">+</tspan><tspan dx="4" dy="11"> </tspan> ∩ training<tspan dx="3.6" dy="-11" style="font-size:20.4px">+</tspan><tspan dx="4" dy="11"> </tspan></text>
<text x="112.09" y="1349" text-anchor="middle" transform="rotate(-90 112.09 1349)">(% of all neurons)</text>
<line x1="670" y1="532" x2="670" y2="721.5" stroke="#000" stroke-width="3.33" stroke-linecap="square"/>
<line x1="670" y1="721.5" x2="965.8" y2="721.5" stroke="#000" stroke-width="3.33" stroke-linecap="square"/>
<line x1="655.42" y1="560.2" x2="670" y2="560.2" stroke="#000" stroke-width="3.33" stroke-linecap="butt"/>
<text x="640.84" y="570.8" text-anchor="end">20</text>
<line x1="655.42" y1="678.7" x2="670" y2="678.7" stroke="#000" stroke-width="3.33" stroke-linecap="butt"/>
<text x="640.84" y="689.3" text-anchor="end">10</text>
<line x1="683.4" y1="721.5" x2="683.4" y2="736.08" stroke="#000" stroke-width="3.33" stroke-linecap="butt"/>
<text x="683.4" y="773.1" text-anchor="middle">0</text>
<line x1="951.7" y1="721.5" x2="951.7" y2="736.08" stroke="#000" stroke-width="3.33" stroke-linecap="butt"/>
<text x="951.7" y="773.1" text-anchor="middle">24</text>
<text x="817.9" y="817.2" text-anchor="middle">Consolidation time (h)</text>
<text x="580.15" y="626.75" text-anchor="middle" transform="rotate(-90 580.15 626.75)">Recall rate (Hz)</text>
<line x1="689.3" y1="903" x2="689.3" y2="1079.4" stroke="#000" stroke-width="3.33" stroke-linecap="square"/>
<line x1="689.3" y1="1079.4" x2="965.8" y2="1079.4" stroke="#000" stroke-width="3.33" stroke-linecap="square"/>
<line x1="674.72" y1="903" x2="689.3" y2="903" stroke="#000" stroke-width="3.33" stroke-linecap="butt"/>
<text x="660.14" y="913.6" text-anchor="end">100</text>
<line x1="674.72" y1="991.2" x2="689.3" y2="991.2" stroke="#000" stroke-width="3.33" stroke-linecap="butt"/>
<text x="660.14" y="1001.8" text-anchor="end">50</text>
<line x1="674.72" y1="1079.4" x2="689.3" y2="1079.4" stroke="#000" stroke-width="3.33" stroke-linecap="butt"/>
<text x="660.14" y="1090" text-anchor="end">0</text>
<line x1="701" y1="1079.4" x2="701" y2="1093.98" stroke="#000" stroke-width="3.33" stroke-linecap="butt"/>
<text x="701" y="1131" text-anchor="middle">0</text>
<line x1="952.6" y1="1079.4" x2="952.6" y2="1093.98" stroke="#000" stroke-width="3.33" stroke-linecap="butt"/>
<text x="952.6" y="1131" text-anchor="middle">24</text>
<text x="827.55" y="1175.1" text-anchor="middle">Consolidation time (h)</text>
<text x="580.89" y="991.2" text-anchor="middle" transform="rotate(-90 580.89 991.2)">Recall (%)</text>
<line x1="676" y1="1260.2" x2="676" y2="1437.4" stroke="#000" stroke-width="3.33" stroke-linecap="square"/>
<line x1="676" y1="1437.4" x2="965.8" y2="1437.4" stroke="#000" stroke-width="3.33" stroke-linecap="square"/>
<line x1="661.42" y1="1260.2" x2="676" y2="1260.2" stroke="#000" stroke-width="3.33" stroke-linecap="butt"/>
<text x="646.84" y="1270.8" text-anchor="end">1</text>
<line x1="661.42" y1="1348.8" x2="676" y2="1348.8" stroke="#000" stroke-width="3.33" stroke-linecap="butt"/>
<text x="646.84" y="1359.4" text-anchor="end">0</text>
<line x1="661.42" y1="1437.4" x2="676" y2="1437.4" stroke="#000" stroke-width="3.33" stroke-linecap="butt"/>
<text x="646.84" y="1448" text-anchor="end">−1</text>
<line x1="689.3" y1="1437.4" x2="689.3" y2="1451.98" stroke="#000" stroke-width="3.33" stroke-linecap="butt"/>
<text x="689.3" y="1489" text-anchor="middle">0</text>
<line x1="951.7" y1="1437.4" x2="951.7" y2="1451.98" stroke="#000" stroke-width="3.33" stroke-linecap="butt"/>
<text x="951.7" y="1489" text-anchor="middle">24</text>
<text x="820.9" y="1533.1" text-anchor="middle">Consolidation time (h)</text>
<text x="580.27" y="1348.8" text-anchor="middle" transform="rotate(-90 580.27 1348.8)">Discrimination</text>
<line x1="182.2" y1="1843.6" x2="182.2" y2="2020.5" stroke="#000" stroke-width="3.33" stroke-linecap="square"/>
<line x1="182.2" y1="2020.5" x2="459.3" y2="2020.5" stroke="#000" stroke-width="3.33" stroke-linecap="square"/>
<line x1="167.62" y1="1843.6" x2="182.2" y2="1843.6" stroke="#000" stroke-width="3.33" stroke-linecap="butt"/>
<text x="153.04" y="1854.2" text-anchor="end">100</text>
<line x1="167.62" y1="1932" x2="182.2" y2="1932" stroke="#000" stroke-width="3.33" stroke-linecap="butt"/>
<text x="153.04" y="1942.6" text-anchor="end">50</text>
<line x1="167.62" y1="2020.5" x2="182.2" y2="2020.5" stroke="#000" stroke-width="3.33" stroke-linecap="butt"/>
<text x="153.04" y="2031.1" text-anchor="end">0</text>
<line x1="194" y1="2020.5" x2="194" y2="2035.08" stroke="#000" stroke-width="3.33" stroke-linecap="butt"/>
<text x="194" y="2072.1" text-anchor="middle">0</text>
<line x1="445.7" y1="2020.5" x2="445.7" y2="2035.08" stroke="#000" stroke-width="3.33" stroke-linecap="butt"/>
<text x="445.7" y="2072.1" text-anchor="middle">24</text>
<text x="320.75" y="2116.2" text-anchor="middle">Consolidation time (h)</text>
<text x="73.79" y="1932.05" text-anchor="middle" transform="rotate(-90 73.79 1932.05)">Recall (%)</text>
<line x1="169.5" y1="2196.3" x2="169.5" y2="2373.2" stroke="#000" stroke-width="3.33" stroke-linecap="square"/>
<line x1="169.5" y1="2373.2" x2="459.3" y2="2373.2" stroke="#000" stroke-width="3.33" stroke-linecap="square"/>
<line x1="154.92" y1="2196.3" x2="169.5" y2="2196.3" stroke="#000" stroke-width="3.33" stroke-linecap="butt"/>
<text x="140.34" y="2206.9" text-anchor="end">1</text>
<line x1="154.92" y1="2284.7" x2="169.5" y2="2284.7" stroke="#000" stroke-width="3.33" stroke-linecap="butt"/>
<text x="140.34" y="2295.3" text-anchor="end">0</text>
<line x1="154.92" y1="2373.2" x2="169.5" y2="2373.2" stroke="#000" stroke-width="3.33" stroke-linecap="butt"/>
<text x="140.34" y="2383.8" text-anchor="end">−1</text>
<line x1="182.8" y1="2373.2" x2="182.8" y2="2387.78" stroke="#000" stroke-width="3.33" stroke-linecap="butt"/>
<text x="182.8" y="2424.8" text-anchor="middle">0</text>
<line x1="445.2" y1="2373.2" x2="445.2" y2="2387.78" stroke="#000" stroke-width="3.33" stroke-linecap="butt"/>
<text x="445.2" y="2424.8" text-anchor="middle">24</text>
<text x="314.4" y="2468.9" text-anchor="middle">Consolidation time (h)</text>
<text x="73.77" y="2284.75" text-anchor="middle" transform="rotate(-90 73.77 2284.75)">Discrimination</text>
<line x1="744.2" y1="1843.6" x2="744.2" y2="2020.5" stroke="#000" stroke-width="3.33" stroke-linecap="square"/>
<line x1="744.2" y1="2020.5" x2="1021.4" y2="2020.5" stroke="#000" stroke-width="3.33" stroke-linecap="square"/>
<line x1="729.62" y1="1843.6" x2="744.2" y2="1843.6" stroke="#000" stroke-width="3.33" stroke-linecap="butt"/>
<text x="715.04" y="1854.2" text-anchor="end">100</text>
<line x1="729.62" y1="1932" x2="744.2" y2="1932" stroke="#000" stroke-width="3.33" stroke-linecap="butt"/>
<text x="715.04" y="1942.6" text-anchor="end">50</text>
<line x1="729.62" y1="2020.5" x2="744.2" y2="2020.5" stroke="#000" stroke-width="3.33" stroke-linecap="butt"/>
<text x="715.04" y="2031.1" text-anchor="end">0</text>
<line x1="756" y1="2020.5" x2="756" y2="2035.08" stroke="#000" stroke-width="3.33" stroke-linecap="butt"/>
<text x="756" y="2072.1" text-anchor="middle">0</text>
<line x1="1008" y1="2020.5" x2="1008" y2="2035.08" stroke="#000" stroke-width="3.33" stroke-linecap="butt"/>
<text x="1008" y="2072.1" text-anchor="middle">24</text>
<text x="882.8" y="2116.2" text-anchor="middle">Consolidation time (h)</text>
<text x="635.79" y="1932.05" text-anchor="middle" transform="rotate(-90 635.79 1932.05)">Recall (%)</text>
<line x1="731" y1="2196.3" x2="731" y2="2373.2" stroke="#000" stroke-width="3.33" stroke-linecap="square"/>
<line x1="731" y1="2373.2" x2="1021.4" y2="2373.2" stroke="#000" stroke-width="3.33" stroke-linecap="square"/>
<line x1="716.42" y1="2196.3" x2="731" y2="2196.3" stroke="#000" stroke-width="3.33" stroke-linecap="butt"/>
<text x="701.84" y="2206.9" text-anchor="end">1</text>
<line x1="716.42" y1="2284.7" x2="731" y2="2284.7" stroke="#000" stroke-width="3.33" stroke-linecap="butt"/>
<text x="701.84" y="2295.3" text-anchor="end">0</text>
<line x1="716.42" y1="2373.2" x2="731" y2="2373.2" stroke="#000" stroke-width="3.33" stroke-linecap="butt"/>
<text x="701.84" y="2383.8" text-anchor="end">−1</text>
<line x1="744.2" y1="2373.2" x2="744.2" y2="2387.78" stroke="#000" stroke-width="3.33" stroke-linecap="butt"/>
<text x="744.2" y="2424.8" text-anchor="middle">0</text>
<line x1="1007.2" y1="2373.2" x2="1007.2" y2="2387.78" stroke="#000" stroke-width="3.33" stroke-linecap="butt"/>
<text x="1007.2" y="2424.8" text-anchor="middle">24</text>
<text x="876.2" y="2468.9" text-anchor="middle">Consolidation time (h)</text>
<text x="635.27" y="2284.75" text-anchor="middle" transform="rotate(-90 635.27 2284.75)">Discrimination</text>
<line x1="1289" y1="1843.6" x2="1289" y2="2020.5" stroke="#000" stroke-width="3.33" stroke-linecap="square"/>
<line x1="1289" y1="2020.5" x2="1566.3" y2="2020.5" stroke="#000" stroke-width="3.33" stroke-linecap="square"/>
<line x1="1274.42" y1="1843.6" x2="1289" y2="1843.6" stroke="#000" stroke-width="3.33" stroke-linecap="butt"/>
<text x="1259.84" y="1854.2" text-anchor="end">100</text>
<line x1="1274.42" y1="1932" x2="1289" y2="1932" stroke="#000" stroke-width="3.33" stroke-linecap="butt"/>
<text x="1259.84" y="1942.6" text-anchor="end">50</text>
<line x1="1274.42" y1="2020.5" x2="1289" y2="2020.5" stroke="#000" stroke-width="3.33" stroke-linecap="butt"/>
<text x="1259.84" y="2031.1" text-anchor="end">0</text>
<line x1="1301.6" y1="2020.5" x2="1301.6" y2="2035.08" stroke="#000" stroke-width="3.33" stroke-linecap="butt"/>
<text x="1301.6" y="2072.1" text-anchor="middle">0</text>
<line x1="1552.2" y1="2020.5" x2="1552.2" y2="2035.08" stroke="#000" stroke-width="3.33" stroke-linecap="butt"/>
<text x="1552.2" y="2072.1" text-anchor="middle">24</text>
<text x="1427.65" y="2116.2" text-anchor="middle">Consolidation time (h)</text>
<text x="1180.59" y="1932.05" text-anchor="middle" transform="rotate(-90 1180.59 1932.05)">Recall (%)</text>
<line x1="1276.6" y1="2196.3" x2="1276.6" y2="2373.2" stroke="#000" stroke-width="3.33" stroke-linecap="square"/>
<line x1="1276.6" y1="2373.2" x2="1566.3" y2="2373.2" stroke="#000" stroke-width="3.33" stroke-linecap="square"/>
<line x1="1262.02" y1="2196.3" x2="1276.6" y2="2196.3" stroke="#000" stroke-width="3.33" stroke-linecap="butt"/>
<text x="1247.44" y="2206.9" text-anchor="end">1</text>
<line x1="1262.02" y1="2284.7" x2="1276.6" y2="2284.7" stroke="#000" stroke-width="3.33" stroke-linecap="butt"/>
<text x="1247.44" y="2295.3" text-anchor="end">0</text>
<line x1="1262.02" y1="2373.2" x2="1276.6" y2="2373.2" stroke="#000" stroke-width="3.33" stroke-linecap="butt"/>
<text x="1247.44" y="2383.8" text-anchor="end">−1</text>
<line x1="1289.2" y1="2373.2" x2="1289.2" y2="2387.78" stroke="#000" stroke-width="3.33" stroke-linecap="butt"/>
<text x="1289.2" y="2424.8" text-anchor="middle">0</text>
<line x1="1551.3" y1="2373.2" x2="1551.3" y2="2387.78" stroke="#000" stroke-width="3.33" stroke-linecap="butt"/>
<text x="1551.3" y="2424.8" text-anchor="middle">24</text>
<text x="1421.45" y="2468.9" text-anchor="middle">Consolidation time (h)</text>
<text x="1180.87" y="2284.75" text-anchor="middle" transform="rotate(-90 1180.87 2284.75)">Discrimination</text>
<line x1="1849.2" y1="1844" x2="1849.2" y2="2020.8" stroke="#000" stroke-width="3.33" stroke-linecap="square"/>
<line x1="1849.2" y1="2020.8" x2="2081.2" y2="2020.8" stroke="#000" stroke-width="3.33" stroke-linecap="square"/>
<line x1="1834.62" y1="1844" x2="1849.2" y2="1844" stroke="#000" stroke-width="3.33" stroke-linecap="butt"/>
<text x="1820.04" y="1854.6" text-anchor="end">100</text>
<line x1="1834.62" y1="1932.4" x2="1849.2" y2="1932.4" stroke="#000" stroke-width="3.33" stroke-linecap="butt"/>
<text x="1820.04" y="1943" text-anchor="end">50</text>
<line x1="1834.62" y1="2020.8" x2="1849.2" y2="2020.8" stroke="#000" stroke-width="3.33" stroke-linecap="butt"/>
<text x="1820.04" y="2031.4" text-anchor="end">0</text>
<line x1="1858.9" y1="2020.8" x2="1858.9" y2="2035.38" stroke="#000" stroke-width="3.33" stroke-linecap="butt"/>
<text x="1858.9" y="2072.4" text-anchor="middle">0</text>
<line x1="2069.7" y1="2020.8" x2="2069.7" y2="2035.38" stroke="#000" stroke-width="3.33" stroke-linecap="butt"/>
<text x="2069.7" y="2072.4" text-anchor="middle">24</text>
<text x="1965.2" y="2116.5" text-anchor="middle">Consolidation time (h)</text>
<text x="1705.79" y="1932.4" text-anchor="middle" transform="rotate(-90 1705.79 1932.4)">probing<tspan dx="3.6" dy="-11" style="font-size:20.4px">+</tspan><tspan dx="4" dy="11"> </tspan> ∩ training<tspan dx="3.6" dy="-11" style="font-size:20.4px">+</tspan><tspan dx="4" dy="11"> </tspan></text>
<text x="1740.79" y="1932.4" text-anchor="middle" transform="rotate(-90 1740.79 1932.4)">(% of training<tspan dx="3.6" dy="-11" style="font-size:20.4px">+</tspan><tspan dx="4" dy="11"> </tspan>)</text>
<line x1="1849.2" y1="2196.4" x2="1849.2" y2="2373.3" stroke="#000" stroke-width="3.33" stroke-linecap="square"/>
<line x1="1849.2" y1="2373.3" x2="2081.2" y2="2373.3" stroke="#000" stroke-width="3.33" stroke-linecap="square"/>
<line x1="1834.62" y1="2196.4" x2="1849.2" y2="2196.4" stroke="#000" stroke-width="3.33" stroke-linecap="butt"/>
<text x="1820.04" y="2207" text-anchor="end">100</text>
<line x1="1834.62" y1="2284.9" x2="1849.2" y2="2284.9" stroke="#000" stroke-width="3.33" stroke-linecap="butt"/>
<text x="1820.04" y="2295.5" text-anchor="end">50</text>
<line x1="1834.62" y1="2373.3" x2="1849.2" y2="2373.3" stroke="#000" stroke-width="3.33" stroke-linecap="butt"/>
<text x="1820.04" y="2383.9" text-anchor="end">0</text>
<line x1="1858.9" y1="2373.3" x2="1858.9" y2="2387.88" stroke="#000" stroke-width="3.33" stroke-linecap="butt"/>
<text x="1858.9" y="2424.9" text-anchor="middle">0</text>
<line x1="2069.7" y1="2373.3" x2="2069.7" y2="2387.88" stroke="#000" stroke-width="3.33" stroke-linecap="butt"/>
<text x="2069.7" y="2424.9" text-anchor="middle">24</text>
<text x="1965.2" y="2469" text-anchor="middle">Consolidation time (h)</text>
<text x="1705.79" y="2284.85" text-anchor="middle" transform="rotate(-90 1705.79 2284.85)">probing<tspan dx="3.6" dy="-11" style="font-size:20.4px">+</tspan><tspan dx="4" dy="11"> </tspan> ∩ training<tspan dx="3.6" dy="-11" style="font-size:20.4px">+</tspan><tspan dx="4" dy="11"> </tspan></text>
<text x="1740.79" y="2284.85" text-anchor="middle" transform="rotate(-90 1740.79 2284.85)">(% of probing<tspan dx="3.6" dy="-11" style="font-size:20.4px">+</tspan><tspan dx="4" dy="11"> </tspan>)</text>
<defs><linearGradient id="gcb" x1="0" y1="0" x2="0" y2="1"><stop offset="0.00" stop-color="#00441b"/><stop offset="0.05" stop-color="#005321"/><stop offset="0.10" stop-color="#006428"/><stop offset="0.15" stop-color="#077331"/><stop offset="0.20" stop-color="#157f3b"/><stop offset="0.25" stop-color="#228a44"/><stop offset="0.30" stop-color="#2f974e"/><stop offset="0.35" stop-color="#3ba458"/><stop offset="0.40" stop-color="#4bb062"/><stop offset="0.45" stop-color="#60ba6c"/><stop offset="0.50" stop-color="#73c476"/><stop offset="0.55" stop-color="#86cc85"/><stop offset="0.60" stop-color="#98d594"/><stop offset="0.65" stop-color="#a9dca3"/><stop offset="0.70" stop-color="#b8e3b2"/><stop offset="0.75" stop-color="#c7e9c0"/><stop offset="0.80" stop-color="#d3eecd"/><stop offset="0.85" stop-color="#dff3da"/><stop offset="0.90" stop-color="#e9f7e5"/><stop offset="0.95" stop-color="#f0f9ed"/><stop offset="1.00" stop-color="#f7fcf5"/></linearGradient><radialGradient id="gnet" cx="0.55" cy="0.45" r="0.62"><stop offset="0" stop-color="#cdcdcd"/><stop offset="0.75" stop-color="#bababa"/><stop offset="1" stop-color="#9c9c9c"/></radialGradient></defs>
<text x="0.06" y="34.5" font-weight="bold" style="font-size:34.3px">a</text>
<text x="588.1" y="33.8" font-weight="bold" style="font-size:34.3px">b</text>
<text x="1101.46" y="34.5" font-weight="bold" style="font-size:34.3px">c</text>
<text x="1617.78" y="34.3" font-weight="bold" style="font-size:34.3px">h</text>
<text x="-0.04" y="496.3" font-weight="bold" style="font-size:34.3px">d</text>
<text x="506.46" y="496.3" font-weight="bold" style="font-size:34.3px">e</text>
<text x="994.08" y="496" font-weight="bold" style="font-size:34.3px">i</text>
<text x="508.81" y="859.8" font-weight="bold" style="font-size:34.3px">f</text>
<text x="506.46" y="1213.5" font-weight="bold" style="font-size:34.3px">g</text>
<text x="4.2" y="1643.5" font-weight="bold" style="font-size:34.3px">j</text>
<text x="579.08" y="1643.8" font-weight="bold" style="font-size:34.3px">k</text>
<text x="1124.08" y="1642.9" font-weight="bold" style="font-size:34.3px">l</text>
<text x="70.9" y="230.2">Stim</text>
<text x="271.58" y="229.7">Exc</text>
<text x="474.78" y="111.4">PV</text>
<text x="513" y="104.2" style="font-size:20.4px">+</text>
<text x="465" y="333.5">CCK</text>
<text x="525.8" y="326.2" style="font-size:20.4px">+</text>
<path d="M255.6,219.1 L227.6,229.6 Q230.4,224.35 230.4,219.1 Q230.4,213.85 227.6,208.6 Z" fill="#000"/>
<path d="M162.8,219.1 L230.4,219.1" fill="none" stroke="#000" stroke-width="2.4" stroke-dasharray="3.7 3.1" stroke-linecap="butt"/>
<path d="M326.3,195.6 L308.01,173.13 Q313.86,174.18 318.86,172.56 Q323.86,170.95 327.99,166.67 Z" fill="#000"/>
<path d="M276.2,193 C281,158 289,136 298.3,136 C306,136 313,152 318.86,172.56" fill="none" stroke="#000" stroke-width="2.4" stroke-dasharray="3.7 3.1" stroke-linecap="butt"/>
<path d="M527.3,75.7 L508.57,53.4 Q514.44,54.35 519.41,52.65 Q524.37,50.95 528.43,46.6 Z" fill="#000"/>
<path d="M476.8,72.3 C481,37 489,16.2 498.1,16.2 C507,16.2 514,34 519.41,52.65" fill="none" stroke="#000" stroke-width="2.4" stroke-linecap="butt"/>
<path d="M527.3,297.4 L508.57,275.1 Q514.44,276.05 519.41,274.35 Q524.37,272.65 528.43,268.3 Z" fill="#000"/>
<path d="M476.8,294.3 C481,259 489,237.9 498.1,237.9 C507,237.9 514,256 519.41,274.35" fill="none" stroke="#000" stroke-width="2.4" stroke-linecap="butt"/>
<path d="M423.6,119 L398.77,135.81 Q400.26,130.05 399.02,124.94 Q397.79,119.84 393.83,115.39 Z" fill="#000"/>
<path d="M357,184 C355,150 375,132 399.02,124.94" fill="none" stroke="#000" stroke-width="2.8" stroke-dasharray="2.6 8.6" stroke-linecap="butt"/>
<path d="M423.6,317.3 L394.8,321.87 Q398.64,317.32 399.74,312.19 Q400.84,307.05 399.2,301.33 Z" fill="#000"/>
<path d="M357,252 C355,286 375,305 399.74,312.19" fill="none" stroke="#000" stroke-width="2.8" stroke-dasharray="2.6 8.6" stroke-linecap="butt"/>
<path d="M390.1,200.5 L414.64,184.35 Q413.04,190.07 414.17,195.2 Q415.29,200.33 419.16,204.85 Z" fill="#000"/>
<path d="M457,137 C457.5,165 445,185 414.17,195.2" fill="none" stroke="#000" stroke-width="2.4" stroke-linecap="butt"/>
<path d="M390.1,236 L419.45,232.51 Q415.46,236.93 414.18,242.02 Q412.91,247.11 414.35,252.89 Z" fill="#000"/>
<path d="M456.4,299.5 C456,272 445,252 414.18,242.02" fill="none" stroke="#000" stroke-width="2.4" stroke-dasharray="3.7 3.1" stroke-linecap="butt"/>
<path d="M489.6,228.9 L466.96,211.24 Q472.91,210.98 477.43,208.31 Q481.94,205.64 485.04,200.56 Z" fill="#000"/>
<path d="M487.9,137.8 C468,160 466,185 477.43,208.31" fill="none" stroke="#000" stroke-width="2.4" stroke-linecap="butt"/>
<path d="M504.9,137.4 L528.58,155.3 Q522.65,155.73 518.21,158.53 Q513.77,161.33 510.82,166.5 Z" fill="#000"/>
<path d="M507.4,228.9 C528,208 530,185 518.21,158.53" fill="none" stroke="#000" stroke-width="2.4" stroke-linecap="butt"/>
<path d="M166,361.2 L137.8,371.2 Q140.6,366.2 140.6,361.2 Q140.6,356.2 137.8,351.2 Z" fill="#000"/>
<path d="M73,361.2 L140.6,361.2" fill="none" stroke="#000" stroke-width="2.4" stroke-dasharray="3.7 3.1" stroke-linecap="butt"/>
<text x="181.08" y="369.9">Long-term plasticity</text>
<path d="M166,405.6 L137.8,415.6 Q140.6,410.6 140.6,405.6 Q140.6,400.6 137.8,395.6 Z" fill="#000"/>
<path d="M73,405.6 L140.6,405.6" fill="none" stroke="#000" stroke-width="2.8" stroke-dasharray="2.6 8.6" stroke-linecap="butt"/>
<text x="181.08" y="414.3">Short-term plasticity</text>
<path d="M166,447.3 L137.8,457.3 Q140.6,452.3 140.6,447.3 Q140.6,442.3 137.8,437.3 Z" fill="#000"/>
<path d="M73,447.3 L140.6,447.3" fill="none" stroke="#000" stroke-width="2.4" stroke-linecap="butt"/>
<text x="181.08" y="457.2">Static</text>
<rect x="1371.3" y="563.5" width="135.75" height="135.55" fill="#e9f7e5"/>
<rect x="1506.25" y="563.5" width="134.95" height="135.55" fill="#c1e6ba"/>
<rect x="1371.3" y="698.25" width="135.75" height="134.75" fill="#e6f5e1"/>
<rect x="1506.25" y="698.25" width="134.95" height="134.75" fill="#eff9ec"/>
<rect x="1371.3" y="563.5" width="269.9" height="269.5" fill="none" stroke="#000" stroke-width="3.33"/>
<line x1="1356.72" y1="630.88" x2="1371.3" y2="630.88" stroke="#000" stroke-width="3.33" stroke-linecap="butt"/>
<line x1="1356.72" y1="765.62" x2="1371.3" y2="765.62" stroke="#000" stroke-width="3.33" stroke-linecap="butt"/>
<line x1="1438.78" y1="833" x2="1438.78" y2="847.58" stroke="#000" stroke-width="3.33" stroke-linecap="butt"/>
<line x1="1573.72" y1="833" x2="1573.72" y2="847.58" stroke="#000" stroke-width="3.33" stroke-linecap="butt"/>
<rect x="1685.1" y="563.5" width="135.25" height="135.55" fill="#abdda5"/>
<rect x="1819.55" y="563.5" width="134.45" height="135.55" fill="#39a257"/>
<rect x="1685.1" y="698.25" width="135.25" height="134.75" fill="#c1e6ba"/>
<rect x="1819.55" y="698.25" width="134.45" height="134.75" fill="#e9f7e5"/>
<rect x="1685.1" y="563.5" width="268.9" height="269.5" fill="none" stroke="#000" stroke-width="3.33"/>
<line x1="1670.52" y1="630.88" x2="1685.1" y2="630.88" stroke="#000" stroke-width="3.33" stroke-linecap="butt"/>
<line x1="1670.52" y1="765.62" x2="1685.1" y2="765.62" stroke="#000" stroke-width="3.33" stroke-linecap="butt"/>
<line x1="1752.32" y1="833" x2="1752.32" y2="847.58" stroke="#000" stroke-width="3.33" stroke-linecap="butt"/>
<line x1="1886.78" y1="833" x2="1886.78" y2="847.58" stroke="#000" stroke-width="3.33" stroke-linecap="butt"/>
<rect x="1316.95" y="614.42" width="32.9" height="32.9" fill="none" stroke="#E8523A" stroke-width="2.3"/>
<rect x="1322.4" y="619.88" width="22" height="22" fill="#E8523A"/>
<rect x="1315.7" y="747.92" width="35.4" height="35.4" fill="#000"/>
<rect x="1971" y="561" width="13.3" height="273.5" fill="url(#gcb)"/>
<rect x="1971" y="561" width="13.3" height="273.5" fill="none" stroke="#000" stroke-width="3.33"/>
<line x1="1984.3" y1="624.6" x2="1998.88" y2="624.6" stroke="#000" stroke-width="3.33" stroke-linecap="butt"/>
<text x="2013.46" y="635.2">0.100</text>
<line x1="1984.3" y1="729.55" x2="1998.88" y2="729.55" stroke="#000" stroke-width="3.33" stroke-linecap="butt"/>
<text x="2013.46" y="740.15">0.050</text>
<line x1="1984.3" y1="834.5" x2="1998.88" y2="834.5" stroke="#000" stroke-width="3.33" stroke-linecap="butt"/>
<text x="2013.46" y="845.1">0.000</text>
<text x="0" y="0" transform="translate(1992.31,545) scale(1.17,1)" style="font-size:26.5px">Weight</text>
<rect x="1371.3" y="921" width="135.75" height="135.8" fill="#eff9eb"/>
<rect x="1506.25" y="921" width="134.95" height="135.8" fill="#c1e6ba"/>
<rect x="1371.3" y="1056" width="135.75" height="135" fill="#e9f7e5"/>
<rect x="1506.25" y="1056" width="134.95" height="135" fill="#f1faee"/>
<rect x="1371.3" y="921" width="269.9" height="270" fill="none" stroke="#000" stroke-width="3.33"/>
<line x1="1356.72" y1="988.5" x2="1371.3" y2="988.5" stroke="#000" stroke-width="3.33" stroke-linecap="butt"/>
<line x1="1356.72" y1="1123.5" x2="1371.3" y2="1123.5" stroke="#000" stroke-width="3.33" stroke-linecap="butt"/>
<line x1="1438.78" y1="1191" x2="1438.78" y2="1205.58" stroke="#000" stroke-width="3.33" stroke-linecap="butt"/>
<line x1="1573.72" y1="1191" x2="1573.72" y2="1205.58" stroke="#000" stroke-width="3.33" stroke-linecap="butt"/>
<rect x="1685.1" y="921" width="135.25" height="135.8" fill="#b8e3b2"/>
<rect x="1819.55" y="921" width="134.45" height="135.8" fill="#a9dca3"/>
<rect x="1685.1" y="1056" width="135.25" height="135" fill="#d3eecd"/>
<rect x="1819.55" y="1056" width="134.45" height="135" fill="#e9f7e5"/>
<rect x="1685.1" y="921" width="268.9" height="270" fill="none" stroke="#000" stroke-width="3.33"/>
<line x1="1670.52" y1="988.5" x2="1685.1" y2="988.5" stroke="#000" stroke-width="3.33" stroke-linecap="butt"/>
<line x1="1670.52" y1="1123.5" x2="1685.1" y2="1123.5" stroke="#000" stroke-width="3.33" stroke-linecap="butt"/>
<line x1="1752.32" y1="1191" x2="1752.32" y2="1205.58" stroke="#000" stroke-width="3.33" stroke-linecap="butt"/>
<line x1="1886.78" y1="1191" x2="1886.78" y2="1205.58" stroke="#000" stroke-width="3.33" stroke-linecap="butt"/>
<rect x="1316.95" y="972.05" width="32.9" height="32.9" fill="none" stroke="#E8523A" stroke-width="2.3"/>
<rect x="1322.4" y="977.5" width="22" height="22" fill="#E8523A"/>
<rect x="1315.7" y="1105.8" width="35.4" height="35.4" fill="#000"/>
<rect x="1971" y="918.5" width="13.3" height="274" fill="url(#gcb)"/>
<rect x="1971" y="918.5" width="13.3" height="274" fill="none" stroke="#000" stroke-width="3.33"/>
<line x1="1984.3" y1="982.22" x2="1998.88" y2="982.22" stroke="#000" stroke-width="3.33" stroke-linecap="butt"/>
<text x="2013.46" y="992.82">0.100</text>
<line x1="1984.3" y1="1087.36" x2="1998.88" y2="1087.36" stroke="#000" stroke-width="3.33" stroke-linecap="butt"/>
<text x="2013.46" y="1097.96">0.050</text>
<line x1="1984.3" y1="1192.5" x2="1998.88" y2="1192.5" stroke="#000" stroke-width="3.33" stroke-linecap="butt"/>
<text x="2013.46" y="1203.1">0.000</text>
<text x="0" y="0" transform="translate(1992.31,902.5) scale(1.17,1)" style="font-size:26.5px">Weight</text>
<rect x="1371.3" y="1279.5" width="135.75" height="135.7" fill="#dff3da"/>
<rect x="1506.25" y="1279.5" width="134.95" height="135.7" fill="#ddf2d8"/>
<rect x="1371.3" y="1414.4" width="135.75" height="134.9" fill="#e9f7e5"/>
<rect x="1506.25" y="1414.4" width="134.95" height="134.9" fill="#e9f7e5"/>
<rect x="1371.3" y="1279.5" width="269.9" height="269.8" fill="none" stroke="#000" stroke-width="3.33"/>
<line x1="1356.72" y1="1346.95" x2="1371.3" y2="1346.95" stroke="#000" stroke-width="3.33" stroke-linecap="butt"/>
<line x1="1356.72" y1="1481.85" x2="1371.3" y2="1481.85" stroke="#000" stroke-width="3.33" stroke-linecap="butt"/>
<line x1="1438.78" y1="1549.3" x2="1438.78" y2="1563.88" stroke="#000" stroke-width="3.33" stroke-linecap="butt"/>
<line x1="1573.72" y1="1549.3" x2="1573.72" y2="1563.88" stroke="#000" stroke-width="3.33" stroke-linecap="butt"/>
<rect x="1685.1" y="1279.5" width="135.25" height="135.7" fill="#00471c"/>
<rect x="1819.55" y="1279.5" width="134.45" height="135.7" fill="#006227"/>
<rect x="1685.1" y="1414.4" width="135.25" height="134.9" fill="#c7e9c0"/>
<rect x="1819.55" y="1414.4" width="134.45" height="134.9" fill="#b2e0ac"/>
<rect x="1685.1" y="1279.5" width="268.9" height="269.8" fill="none" stroke="#000" stroke-width="3.33"/>
<line x1="1670.52" y1="1346.95" x2="1685.1" y2="1346.95" stroke="#000" stroke-width="3.33" stroke-linecap="butt"/>
<line x1="1670.52" y1="1481.85" x2="1685.1" y2="1481.85" stroke="#000" stroke-width="3.33" stroke-linecap="butt"/>
<line x1="1752.32" y1="1549.3" x2="1752.32" y2="1563.88" stroke="#000" stroke-width="3.33" stroke-linecap="butt"/>
<line x1="1886.78" y1="1549.3" x2="1886.78" y2="1563.88" stroke="#000" stroke-width="3.33" stroke-linecap="butt"/>
<rect x="1316.95" y="1330.5" width="32.9" height="32.9" fill="none" stroke="#E8523A" stroke-width="2.3"/>
<rect x="1322.4" y="1335.95" width="22" height="22" fill="#E8523A"/>
<rect x="1315.7" y="1464.15" width="35.4" height="35.4" fill="#000"/>
<rect x="1971" y="1277" width="13.3" height="273.8" fill="url(#gcb)"/>
<rect x="1971" y="1277" width="13.3" height="273.8" fill="none" stroke="#000" stroke-width="3.33"/>
<line x1="1984.3" y1="1340.67" x2="1998.88" y2="1340.67" stroke="#000" stroke-width="3.33" stroke-linecap="butt"/>
<text x="2013.46" y="1351.27">0.100</text>
<line x1="1984.3" y1="1445.73" x2="1998.88" y2="1445.73" stroke="#000" stroke-width="3.33" stroke-linecap="butt"/>
<text x="2013.46" y="1456.33">0.050</text>
<line x1="1984.3" y1="1550.8" x2="1998.88" y2="1550.8" stroke="#000" stroke-width="3.33" stroke-linecap="butt"/>
<text x="2013.46" y="1561.4">0.000</text>
<text x="0" y="0" transform="translate(1992.31,1261) scale(1.17,1)" style="font-size:26.5px">Weight</text>
<rect x="1421.08" y="1569.7" width="35.4" height="35.4" fill="#000"/>
<rect x="1557.28" y="1570.95" width="32.9" height="32.9" fill="none" stroke="#E8523A" stroke-width="2.3"/>
<rect x="1562.72" y="1576.4" width="22" height="22" fill="#E8523A"/>
<rect x="1734.62" y="1569.7" width="35.4" height="35.4" fill="#000"/>
<rect x="1870.33" y="1570.95" width="32.9" height="32.9" fill="none" stroke="#E8523A" stroke-width="2.3"/>
<rect x="1875.78" y="1576.4" width="22" height="22" fill="#E8523A"/>
<text x="1506.25" y="519.5" text-anchor="middle" style="font-size:28.2px">t<tspan style="font-size:19.7px" dy="5">consolidation</tspan><tspan dy="-5"> = 0 h</tspan></text>
<text x="1819.55" y="519.5" text-anchor="middle" style="font-size:28.2px">t<tspan style="font-size:19.7px" dy="5">consolidation</tspan><tspan dy="-5"> = 24 h</tspan></text>
<rect x="1005.85" y="510.65" width="32.9" height="32.9" fill="none" stroke="#E8523A" stroke-width="2.3"/>
<rect x="1011.3" y="516.1" width="22" height="22" fill="#E8523A"/>
<rect x="1004.7" y="557.4" width="35.4" height="35.4" fill="#000"/>
<text x="0" y="0" transform="translate(1055.06,535.1) scale(1.15,1)" style="font-size:27.3px">Engram cells</text>
<text x="0" y="0" transform="translate(1055.06,582.3) scale(1.15,1)" style="font-size:27.3px">Non-engram cells</text>
<text x="1042.7" y="709.1">Stim</text>
<path d="M1218.5,698.5 L1190.5,708.8 Q1193.3,703.65 1193.3,698.5 Q1193.3,693.35 1190.5,688.2 Z" fill="#000"/>
<path d="M1125.6,698.5 L1193.3,698.5" fill="none" stroke="#000" stroke-width="2" stroke-dasharray="3.7 3.1" stroke-linecap="butt"/>
<text x="1233.98" y="709.1">Exc</text>
<path d="M1190.3,1066.8 L1171.29,1044.05 Q1177.08,1044.96 1181.94,1043.24 Q1186.79,1041.52 1190.71,1037.15 Z" fill="#000"/>
<path d="M1138.6,1063.6 C1143,1028 1151,1007 1160.6,1007 C1169,1007 1176,1024 1181.94,1043.24" fill="none" stroke="#000" stroke-width="2" stroke-dasharray="3.7 3.1" stroke-linecap="butt"/>
<text x="1137.68" y="1107.2">Exc</text>
<text x="1059.78" y="1441.7">Exc</text>
<text x="1224.3" y="1441.7">CCK</text>
<text x="1283" y="1432" style="font-size:20.4px">+</text>
<path d="M1119.3,1410.3 L1138.61,1387.1 Q1138.79,1392.96 1141.38,1397.41 Q1143.98,1401.86 1148.99,1404.9 Z" fill="#000"/>
<path d="M1211.3,1408.4 C1200,1392 1180,1386 1141.38,1397.41" fill="none" stroke="#000" stroke-width="2" stroke-dasharray="3.7 3.1" stroke-linecap="butt"/>
<path d="M1300.2,1512.7 L1306.7,1528.5 Q1303.45,1525 1300.2,1525 Q1296.95,1525 1293.7,1528.5 Z" fill="#000"/>
<path d="M1359.3,1571 L1343,1577.5 Q1346.5,1574.25 1346.5,1571 Q1346.5,1567.75 1343,1564.5 Z" fill="#000"/>
<path d="M1300.2,1525 L1300.2,1571 L1346.5,1571" fill="none" stroke="#000" stroke-width="1.8" stroke-linecap="butt"/>
<text x="1241.38" y="1551.5">Pre</text>
<text x="1297.28" y="1604.8">Post</text>
<rect x="240.2" y="1643.3" width="59.6" height="59.4" fill="#000"/>
<polygon points="253.2,1647.9 287.2,1647.9 280.5,1654.5 259.7,1654.5" fill="#fff"/>
<polygon points="253.2,1698.1 287.2,1698.1 280.5,1691.7 259.7,1691.7" fill="#fff"/>
<polygon points="244.8,1656.3 244.8,1689.8 251.4,1683.3 251.4,1662.8" fill="#fff"/>
<polygon points="295.2,1656.3 295.2,1689.8 288.8,1683.3 288.8,1662.8" fill="#fff"/>
<path d="M341,1672.9 L319.6,1680.9 Q324.6,1676.9 324.6,1672.9 Q324.6,1668.9 319.6,1664.9 Z" fill="#000"/>
<line x1="299.8" y1="1672.9" x2="324.6" y2="1672.9" stroke="#000" stroke-width="2" stroke-linecap="butt"/>
<circle cx="370.8" cy="1673.9" r="29.1" fill="url(#gnet)" stroke="#8c8c8c" stroke-width="1.2"/>
<path d="M-14,-6.8 L19,-6.8 M-0.3,-11 Q0,0 -2,5 Q-4,10 -6,16 M-14,-16 Q-5,-17.5 6,-16 Q12,-15 16,-10 M-20,2 Q-16,10 -8,11 Q0,12 6,9 M8,5 Q12,9 15,13 M11,-1 Q18,-4 26,1 M11.4,17.5 Q13,20 14,23 M-14,14 Q-10,12 -7,14 M-11,-9 Q-16,-2 -11,1.5 M18,-8 Q22,-14 20,-12 M2,-15 Q-1,-20 -2.4,-25 M9,5 Q14,3 15,12 Q17,16 14.6,12.5" transform="translate(370.8,1673.9)" fill="none" stroke="#4a4a4a" stroke-width="0.55"/>
<circle cx="369.5" cy="1650" r="2.3" fill="#fff"/>
<circle cx="356.1" cy="1656.9" r="2.3" fill="#fff"/>
<circle cx="380.8" cy="1657.1" r="2.3" fill="#fff"/>
<circle cx="367.9" cy="1660.6" r="2.3" fill="#fff"/>
<circle cx="390.9" cy="1661.4" r="2.3" fill="#fff"/>
<circle cx="359.4" cy="1664.4" r="2.3" fill="#fff"/>
<circle cx="349.7" cy="1670" r="2.3" fill="#fff"/>
<circle cx="377.2" cy="1671.9" r="2.3" fill="#fff"/>
<circle cx="391.8" cy="1676.9" r="2.3" fill="#fff"/>
<circle cx="362.2" cy="1678.6" r="2.3" fill="#fff"/>
<circle cx="381.3" cy="1681.8" r="2.3" fill="#fff"/>
<circle cx="369" cy="1684.4" r="2.3" fill="#fff"/>
<circle cx="354.2" cy="1685" r="2.3" fill="#fff"/>
<circle cx="389.9" cy="1687" r="2.3" fill="#fff"/>
<circle cx="361.7" cy="1693" r="2.3" fill="#fff"/>
<circle cx="380" cy="1696" r="2.3" fill="#fff"/>
<circle cx="373" cy="1658.3" r="1.15" fill="#1a1a1a"/>
<circle cx="381.7" cy="1661.3" r="1.15" fill="#1a1a1a"/>
<circle cx="363.4" cy="1666.3" r="1.15" fill="#1a1a1a"/>
<circle cx="388.8" cy="1665.9" r="1.15" fill="#1a1a1a"/>
<circle cx="359.4" cy="1675.4" r="1.15" fill="#1a1a1a"/>
<circle cx="382" cy="1674.1" r="1.15" fill="#1a1a1a"/>
<circle cx="397.2" cy="1674.8" r="1.15" fill="#1a1a1a"/>
<circle cx="379.4" cy="1679.1" r="1.15" fill="#1a1a1a"/>
<circle cx="370.7" cy="1680.9" r="1.15" fill="#1a1a1a"/>
<circle cx="356.8" cy="1687.8" r="1.15" fill="#1a1a1a"/>
<circle cx="363.8" cy="1688" r="1.15" fill="#1a1a1a"/>
<circle cx="385.4" cy="1686.4" r="1.15" fill="#1a1a1a"/>
<circle cx="382.2" cy="1691.4" r="1.15" fill="#1a1a1a"/>
<circle cx="368.4" cy="1648.9" r="1.15" fill="#1a1a1a"/>
<text x="0" y="0" transform="translate(320.2,1738.7) scale(1.045,1)" text-anchor="middle" style="font-size:28px">Recall</text>
<text x="320.2" y="1773" text-anchor="middle" font-weight="bold">Block CCK<tspan dx="1.5" dy="-10" style="font-size:16.5px">+</tspan><tspan dy="10"> interneurons</tspan></text>
<rect x="795.9" y="1643.3" width="59.6" height="59.4" fill="#000"/>
<polygon points="808.9,1647.9 842.9,1647.9 836.2,1654.5 815.4,1654.5" fill="#fff"/>
<polygon points="808.9,1698.1 842.9,1698.1 836.2,1691.7 815.4,1691.7" fill="#fff"/>
<polygon points="800.5,1656.3 800.5,1689.8 807.1,1683.3 807.1,1662.8" fill="#fff"/>
<polygon points="850.9,1656.3 850.9,1689.8 844.5,1683.3 844.5,1662.8" fill="#fff"/>
<path d="M896.2,1672.9 L874.8,1680.9 Q879.8,1676.9 879.8,1672.9 Q879.8,1668.9 874.8,1664.9 Z" fill="#000"/>
<line x1="855.5" y1="1672.9" x2="879.8" y2="1672.9" stroke="#000" stroke-width="2" stroke-linecap="butt"/>
<circle cx="926.3" cy="1673.9" r="29.1" fill="url(#gnet)" stroke="#8c8c8c" stroke-width="1.2"/>
<path d="M-14,-6.8 L19,-6.8 M-0.3,-11 Q0,0 -2,5 Q-4,10 -6,16 M-14,-16 Q-5,-17.5 6,-16 Q12,-15 16,-10 M-20,2 Q-16,10 -8,11 Q0,12 6,9 M8,5 Q12,9 15,13 M11,-1 Q18,-4 26,1 M11.4,17.5 Q13,20 14,23 M-14,14 Q-10,12 -7,14 M-11,-9 Q-16,-2 -11,1.5 M18,-8 Q22,-14 20,-12 M2,-15 Q-1,-20 -2.4,-25 M9,5 Q14,3 15,12 Q17,16 14.6,12.5" transform="translate(926.3,1673.9)" fill="none" stroke="#4a4a4a" stroke-width="0.55"/>
<circle cx="925" cy="1650" r="2.3" fill="#fff"/>
<circle cx="911.6" cy="1656.9" r="2.3" fill="#fff"/>
<circle cx="936.3" cy="1657.1" r="2.3" fill="#fff"/>
<circle cx="923.4" cy="1660.6" r="2.3" fill="#fff"/>
<circle cx="946.4" cy="1661.4" r="2.3" fill="#fff"/>
<circle cx="914.9" cy="1664.4" r="2.3" fill="#fff"/>
<circle cx="905.2" cy="1670" r="2.3" fill="#fff"/>
<circle cx="932.7" cy="1671.9" r="2.3" fill="#fff"/>
<circle cx="947.3" cy="1676.9" r="2.3" fill="#fff"/>
<circle cx="917.7" cy="1678.6" r="2.3" fill="#fff"/>
<circle cx="936.8" cy="1681.8" r="2.3" fill="#fff"/>
<circle cx="924.5" cy="1684.4" r="2.3" fill="#fff"/>
<circle cx="909.7" cy="1685" r="2.3" fill="#fff"/>
<circle cx="945.4" cy="1687" r="2.3" fill="#fff"/>
<circle cx="917.2" cy="1693" r="2.3" fill="#fff"/>
<circle cx="935.5" cy="1696" r="2.3" fill="#fff"/>
<circle cx="928.5" cy="1658.3" r="1.15" fill="#1a1a1a"/>
<circle cx="937.2" cy="1661.3" r="1.15" fill="#1a1a1a"/>
<circle cx="918.9" cy="1666.3" r="1.15" fill="#1a1a1a"/>
<circle cx="944.3" cy="1665.9" r="1.15" fill="#1a1a1a"/>
<circle cx="914.9" cy="1675.4" r="1.15" fill="#1a1a1a"/>
<circle cx="937.5" cy="1674.1" r="1.15" fill="#1a1a1a"/>
<circle cx="952.7" cy="1674.8" r="1.15" fill="#1a1a1a"/>
<circle cx="934.9" cy="1679.1" r="1.15" fill="#1a1a1a"/>
<circle cx="926.2" cy="1680.9" r="1.15" fill="#1a1a1a"/>
<circle cx="912.3" cy="1687.8" r="1.15" fill="#1a1a1a"/>
<circle cx="919.3" cy="1688" r="1.15" fill="#1a1a1a"/>
<circle cx="940.9" cy="1686.4" r="1.15" fill="#1a1a1a"/>
<circle cx="937.7" cy="1691.4" r="1.15" fill="#1a1a1a"/>
<circle cx="923.9" cy="1648.9" r="1.15" fill="#1a1a1a"/>
<text x="0" y="0" transform="translate(876.0,1738.7) scale(1.045,1)" text-anchor="middle" style="font-size:28px">Recall</text>
<text x="875.5" y="1773.5" text-anchor="middle" font-weight="bold">Block PV<tspan dx="1.5" dy="-10" style="font-size:16.5px">+</tspan><tspan dy="10"> interneurons</tspan></text>
<rect x="1541.2" y="1643.3" width="59.6" height="59.4" fill="#000"/>
<rect x="1545.5" y="1647.6" width="51" height="50.8" fill="#fff"/>
<rect x="1552" y="1654.2" width="38" height="37.5" fill="#000"/>
<path d="M1641.5,1672.9 L1620.1,1680.9 Q1625.1,1676.9 1625.1,1672.9 Q1625.1,1668.9 1620.1,1664.9 Z" fill="#000"/>
<line x1="1600.5" y1="1672.9" x2="1625.1" y2="1672.9" stroke="#000" stroke-width="2" stroke-linecap="butt"/>
<circle cx="1671.2" cy="1673.9" r="29.1" fill="url(#gnet)" stroke="#8c8c8c" stroke-width="1.2"/>
<path d="M-14,-6.8 L19,-6.8 M-0.3,-11 Q0,0 -2,5 Q-4,10 -6,16 M-14,-16 Q-5,-17.5 6,-16 Q12,-15 16,-10 M-20,2 Q-16,10 -8,11 Q0,12 6,9 M8,5 Q12,9 15,13 M11,-1 Q18,-4 26,1 M11.4,17.5 Q13,20 14,23 M-14,14 Q-10,12 -7,14 M-11,-9 Q-16,-2 -11,1.5 M18,-8 Q22,-14 20,-12 M2,-15 Q-1,-20 -2.4,-25 M9,5 Q14,3 15,12 Q17,16 14.6,12.5" transform="translate(1671.2,1673.9)" fill="none" stroke="#4a4a4a" stroke-width="0.55"/>
<circle cx="1669.9" cy="1650" r="2.3" fill="#fff"/>
<circle cx="1656.5" cy="1656.9" r="2.3" fill="#fff"/>
<circle cx="1681.2" cy="1657.1" r="2.3" fill="#fff"/>
<circle cx="1668.3" cy="1660.6" r="2.3" fill="#fff"/>
<circle cx="1691.3" cy="1661.4" r="2.3" fill="#fff"/>
<circle cx="1659.8" cy="1664.4" r="2.3" fill="#fff"/>
<circle cx="1650.1" cy="1670" r="2.3" fill="#fff"/>
<circle cx="1677.6" cy="1671.9" r="2.3" fill="#fff"/>
<circle cx="1692.2" cy="1676.9" r="2.3" fill="#fff"/>
<circle cx="1662.6" cy="1678.6" r="2.3" fill="#fff"/>
<circle cx="1681.7" cy="1681.8" r="2.3" fill="#fff"/>
<circle cx="1669.4" cy="1684.4" r="2.3" fill="#fff"/>
<circle cx="1654.6" cy="1685" r="2.3" fill="#fff"/>
<circle cx="1690.3" cy="1687" r="2.3" fill="#fff"/>
<circle cx="1662.1" cy="1693" r="2.3" fill="#fff"/>
<circle cx="1680.4" cy="1696" r="2.3" fill="#fff"/>
<circle cx="1673.4" cy="1658.3" r="1.15" fill="#1a1a1a"/>
<circle cx="1682.1" cy="1661.3" r="1.15" fill="#1a1a1a"/>
<circle cx="1663.8" cy="1666.3" r="1.15" fill="#1a1a1a"/>
<circle cx="1689.2" cy="1665.9" r="1.15" fill="#1a1a1a"/>
<circle cx="1659.8" cy="1675.4" r="1.15" fill="#1a1a1a"/>
<circle cx="1682.4" cy="1674.1" r="1.15" fill="#1a1a1a"/>
<circle cx="1697.6" cy="1674.8" r="1.15" fill="#1a1a1a"/>
<circle cx="1679.8" cy="1679.1" r="1.15" fill="#1a1a1a"/>
<circle cx="1671.1" cy="1680.9" r="1.15" fill="#1a1a1a"/>
<circle cx="1657.2" cy="1687.8" r="1.15" fill="#1a1a1a"/>
<circle cx="1664.2" cy="1688" r="1.15" fill="#1a1a1a"/>
<circle cx="1685.8" cy="1686.4" r="1.15" fill="#1a1a1a"/>
<circle cx="1682.6" cy="1691.4" r="1.15" fill="#1a1a1a"/>
<circle cx="1668.8" cy="1648.9" r="1.15" fill="#1a1a1a"/>
<text x="0" y="0" transform="translate(1620.8,1738.9) scale(1.12,1)" text-anchor="middle" style="font-size:28px">Consolidation</text>
<text x="1620.0" y="1773.5" text-anchor="middle" font-weight="bold">Block CCK<tspan dx="1.5" dy="-10" style="font-size:16.5px">+</tspan><tspan dy="10"> interneurons</tspan></text>
</svg>
</body></html>
